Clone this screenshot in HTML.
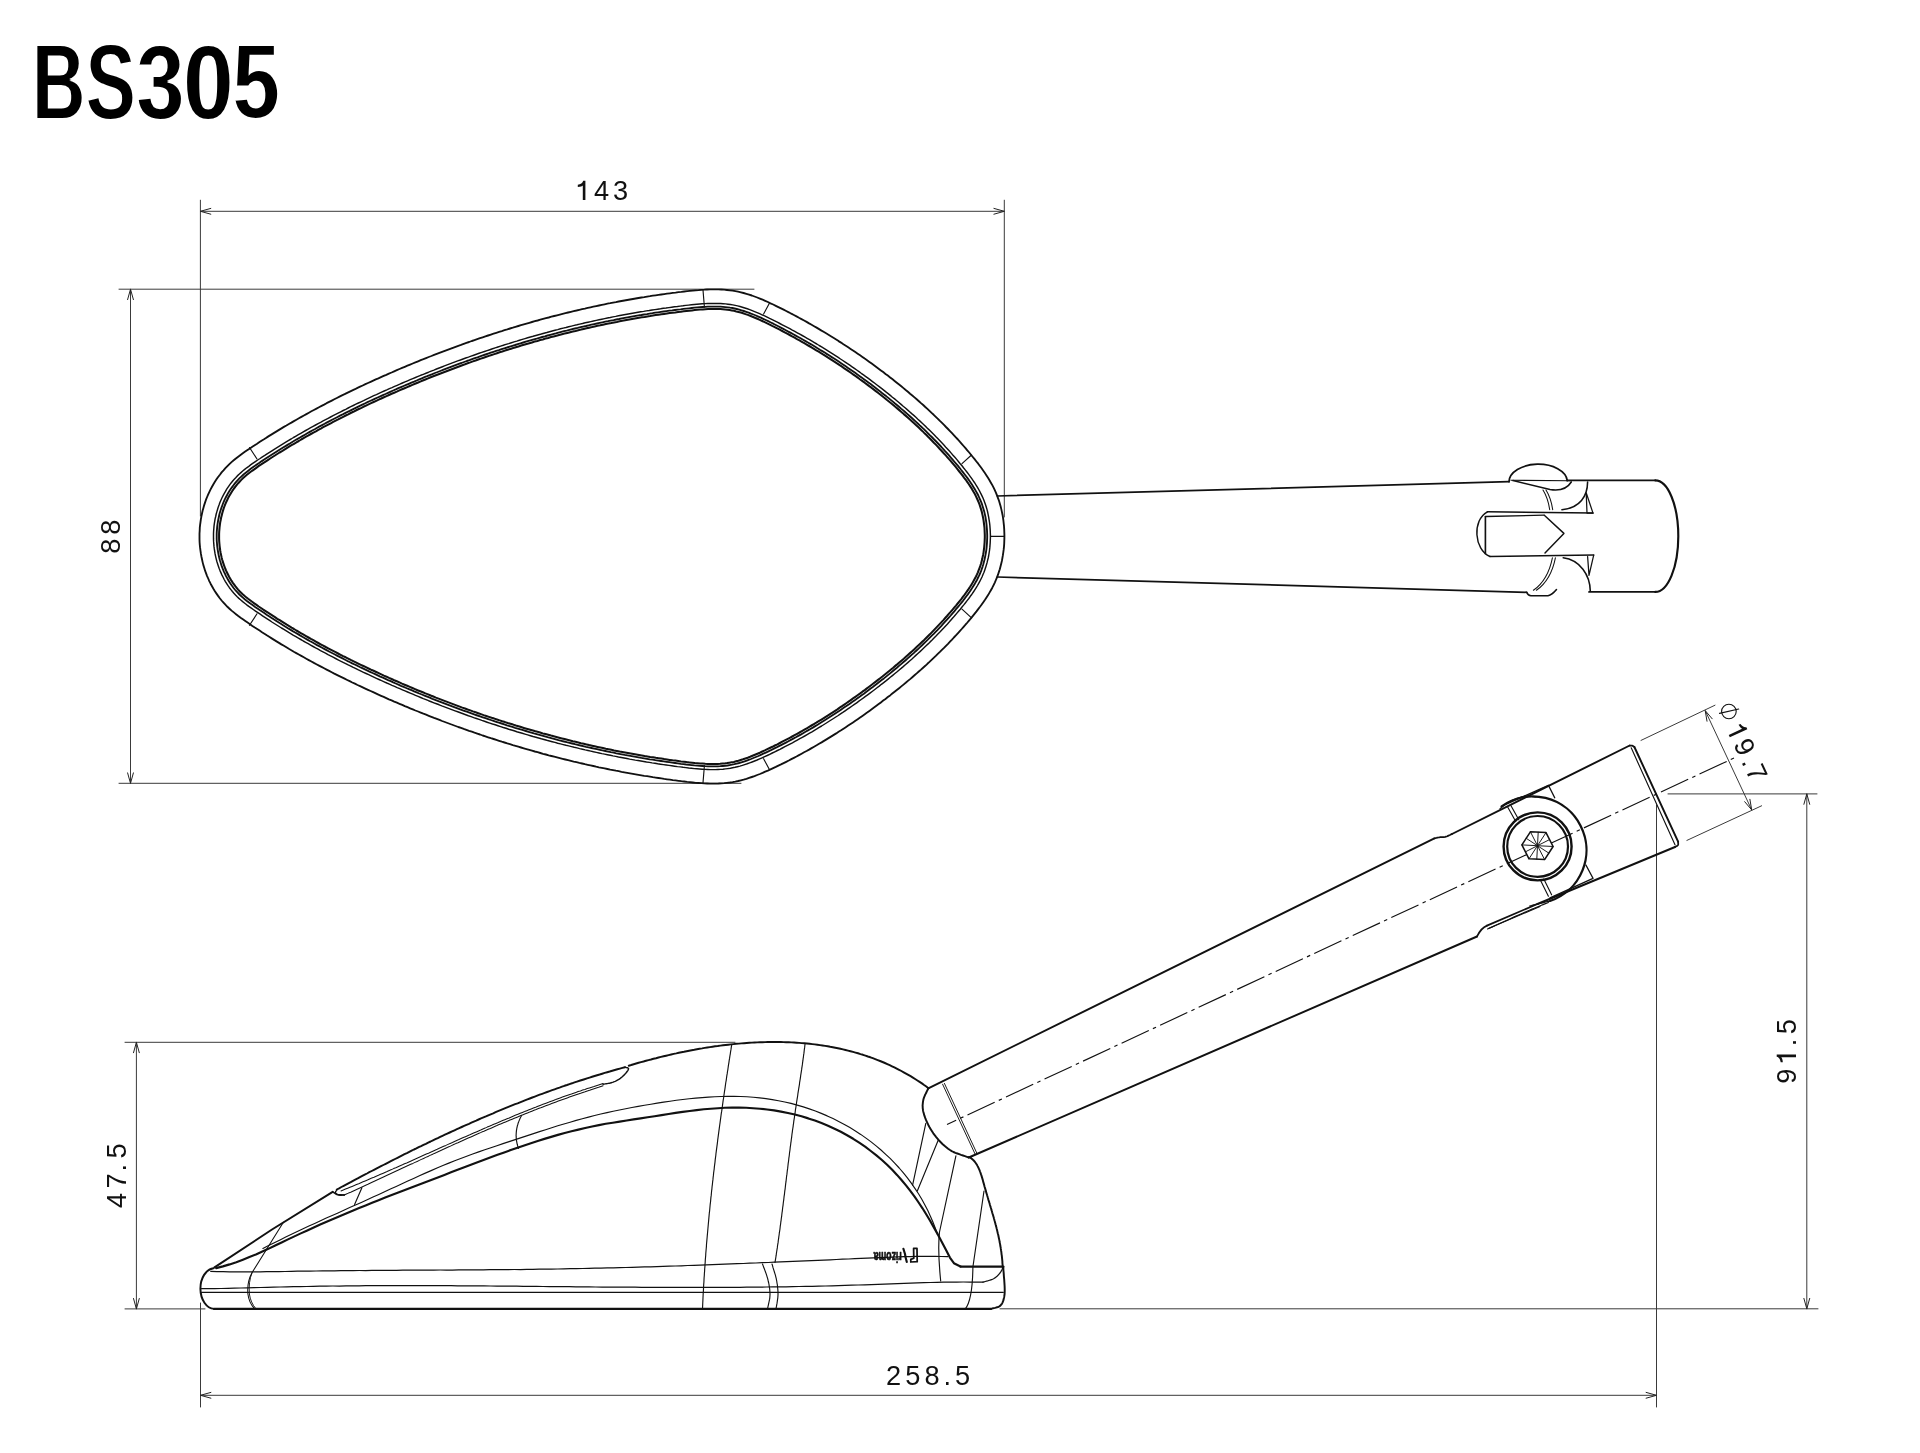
<!DOCTYPE html>
<html><head><meta charset="utf-8"><style>
html,body{margin:0;padding:0;background:#fff;}
body{width:1920px;height:1453px;overflow:hidden;position:relative;}
svg{position:absolute;left:0;top:0;will-change:transform;}
</style></head><body>
<svg width="1920" height="1453" viewBox="0 0 1920 1453" stroke-linecap="round" stroke-linejoin="round">
<line x1="200.4" y1="200.2" x2="200.4" y2="516.0" stroke="#3a3a3a" stroke-width="1.0" />
<line x1="1004.3" y1="200.2" x2="1004.3" y2="517.0" stroke="#3a3a3a" stroke-width="1.0" />
<line x1="200.4" y1="211.3" x2="1004.3" y2="211.3" stroke="#3a3a3a" stroke-width="1.0" />
<path d="M210.8,214.2 L200.4,211.3 L210.8,208.4" fill="none" stroke="#222" stroke-width="1.0" />
<path d="M993.9,208.4 L1004.3,211.3 L993.9,214.2" fill="none" stroke="#222" stroke-width="1.0" />
<line x1="119.0" y1="289.2" x2="754.0" y2="289.2" stroke="#3a3a3a" stroke-width="1.0" />
<line x1="119.0" y1="783.3" x2="741.0" y2="783.3" stroke="#3a3a3a" stroke-width="1.0" />
<line x1="130.5" y1="289.2" x2="130.5" y2="783.3" stroke="#3a3a3a" stroke-width="1.0" />
<path d="M127.6,299.6 L130.5,289.2 L133.4,299.6" fill="none" stroke="#222" stroke-width="1.0" />
<path d="M133.4,772.9 L130.5,783.3 L127.6,772.9" fill="none" stroke="#222" stroke-width="1.0" />
<line x1="125.0" y1="1042.3" x2="735.0" y2="1042.3" stroke="#3a3a3a" stroke-width="1.0" />
<line x1="125.0" y1="1308.9" x2="205.0" y2="1308.9" stroke="#3a3a3a" stroke-width="1.0" />
<line x1="136.4" y1="1042.3" x2="136.4" y2="1308.9" stroke="#3a3a3a" stroke-width="1.0" />
<path d="M133.5,1052.7 L136.4,1042.3 L139.3,1052.7" fill="none" stroke="#222" stroke-width="1.0" />
<path d="M139.3,1298.5 L136.4,1308.9 L133.5,1298.5" fill="none" stroke="#222" stroke-width="1.0" />
<line x1="200.5" y1="1303.0" x2="200.5" y2="1407.0" stroke="#3a3a3a" stroke-width="1.0" />
<line x1="1656.5" y1="805.0" x2="1656.5" y2="1407.0" stroke="#3a3a3a" stroke-width="1.0" />
<line x1="200.5" y1="1395.3" x2="1656.5" y2="1395.3" stroke="#3a3a3a" stroke-width="1.0" />
<path d="M210.9,1398.2 L200.5,1395.3 L210.9,1392.4" fill="none" stroke="#222" stroke-width="1.0" />
<path d="M1646.1,1392.4 L1656.5,1395.3 L1646.1,1398.2" fill="none" stroke="#222" stroke-width="1.0" />
<line x1="1668.0" y1="793.9" x2="1817.0" y2="793.9" stroke="#3a3a3a" stroke-width="1.0" />
<line x1="1000.0" y1="1308.8" x2="1818.0" y2="1308.8" stroke="#3a3a3a" stroke-width="1.0" />
<line x1="1806.8" y1="793.9" x2="1806.8" y2="1308.8" stroke="#3a3a3a" stroke-width="1.0" />
<path d="M1803.9,804.3 L1806.8,793.9 L1809.7,804.3" fill="none" stroke="#222" stroke-width="1.0" />
<path d="M1809.7,1298.4 L1806.8,1308.8 L1803.9,1298.4" fill="none" stroke="#222" stroke-width="1.0" />
<line x1="1641.0" y1="740.4" x2="1715.0" y2="705.2" stroke="#3a3a3a" stroke-width="1.0" />
<line x1="1686.9" y1="840.4" x2="1761.6" y2="805.8" stroke="#3a3a3a" stroke-width="1.0" />
<line x1="1705.2" y1="710.6" x2="1751.7" y2="809.9" stroke="#3a3a3a" stroke-width="1.0" />
<path d="M1707.0,721.2 L1705.2,710.6 L1712.2,718.8" fill="none" stroke="#222" stroke-width="1.0" />
<path d="M1749.9,799.3 L1751.7,809.9 L1744.7,801.7" fill="none" stroke="#222" stroke-width="1.0" />
<path d="M199.5,536.4 L199.5,533.5 L199.7,530.6 L199.8,527.7 L200.1,524.8 L200.5,522.0 L200.9,519.1 L201.4,516.3 L202.0,513.5 L202.6,510.7 L203.4,507.9 L204.2,505.1 L205.1,502.4 L206.0,499.7 L207.1,497.0 L208.2,494.4 L209.4,491.8 L210.7,489.2 L212.0,486.7 L213.4,484.2 L214.9,481.7 L216.5,479.3 L218.1,477.0 L219.9,474.7 L221.6,472.4 L223.5,470.3 L225.4,468.1 L227.4,466.1 L229.4,464.1 L231.5,462.1 L233.7,460.3 L235.9,458.5 L238.2,456.7 L240.5,455.0 L242.8,453.3 L245.2,451.6 L247.5,450.0 L249.9,448.4 L252.3,446.8 L254.7,445.2 L257.1,443.7 L259.5,442.1 L261.9,440.5 L264.4,439.0 L266.8,437.4 L269.2,435.9 L271.7,434.4 L274.1,432.9 L276.6,431.4 L279.0,429.9 L281.5,428.4 L283.9,426.9 L286.4,425.5 L288.9,424.0 L291.4,422.6 L293.9,421.1 L296.4,419.7 L298.9,418.3 L301.4,416.9 L303.9,415.5 L306.4,414.1 L308.9,412.7 L311.4,411.3 L313.9,410.0 L316.5,408.6 L319.0,407.3 L321.6,405.9 L324.1,404.6 L326.6,403.2 L329.2,401.9 L331.8,400.6 L334.3,399.3 L336.9,398.0 L339.5,396.7 L342.0,395.4 L344.6,394.2 L347.2,392.9 L349.8,391.6 L352.4,390.4 L355.0,389.2 L357.5,387.9 L360.1,386.7 L362.7,385.5 L365.4,384.2 L368.0,383.0 L370.6,381.8 L373.2,380.6 L375.8,379.4 L378.4,378.3 L381.0,377.1 L383.7,375.9 L386.3,374.8 L388.9,373.6 L391.6,372.5 L394.2,371.3 L396.8,370.2 L399.5,369.0 L402.1,367.9 L404.8,366.8 L407.4,365.7 L410.1,364.6 L412.7,363.5 L415.4,362.4 L418.1,361.3 L420.7,360.2 L423.4,359.2 L426.1,358.1 L428.7,357.0 L431.4,356.0 L434.1,354.9 L436.8,353.9 L439.4,352.9 L442.1,351.8 L444.8,350.8 L447.5,349.8 L450.2,348.8 L452.9,347.8 L455.6,346.8 L458.3,345.8 L461.0,344.9 L463.7,343.9 L466.4,342.9 L469.1,342.0 L471.8,341.0 L474.5,340.1 L477.2,339.2 L480.0,338.2 L482.7,337.3 L485.4,336.4 L488.1,335.5 L490.9,334.6 L493.6,333.7 L496.3,332.8 L499.1,331.9 L501.8,331.1 L504.5,330.2 L507.3,329.4 L510.0,328.5 L512.8,327.7 L515.5,326.8 L518.3,326.0 L521.0,325.2 L523.8,324.4 L526.5,323.6 L529.3,322.8 L532.0,322.0 L534.8,321.2 L537.6,320.5 L540.3,319.7 L543.1,318.9 L545.9,318.2 L548.7,317.5 L551.4,316.7 L554.2,316.0 L557.0,315.3 L559.8,314.6 L562.6,313.9 L565.4,313.2 L568.1,312.5 L570.9,311.8 L573.7,311.1 L576.5,310.5 L579.3,309.8 L582.1,309.2 L584.9,308.6 L587.7,307.9 L590.5,307.3 L593.3,306.7 L596.2,306.1 L599.0,305.5 L601.8,304.9 L604.6,304.3 L607.4,303.7 L610.2,303.2 L613.1,302.6 L615.9,302.1 L618.7,301.5 L621.5,301.0 L624.4,300.5 L627.2,300.0 L630.0,299.5 L632.9,299.0 L635.7,298.5 L638.5,298.0 L641.4,297.5 L644.2,297.1 L647.1,296.6 L649.9,296.2 L652.8,295.7 L655.6,295.3 L658.5,294.9 L661.3,294.5 L664.2,294.1 L667.0,293.7 L669.9,293.3 L672.7,292.9 L675.6,292.6 L678.5,292.2 L681.3,291.9 L684.2,291.5 L687.1,291.2 L689.9,290.9 L692.8,290.6 L695.7,290.3 L698.6,290.1 L701.4,289.8 L704.3,289.7 L707.1,289.5 L710.0,289.4 L712.8,289.4 L715.7,289.4 L718.5,289.4 L721.3,289.5 L724.2,289.7 L727.0,290.0 L729.8,290.3 L732.6,290.7 L735.4,291.1 L738.1,291.7 L740.9,292.3 L743.6,293.0 L746.4,293.8 L749.1,294.6 L751.8,295.5 L754.5,296.5 L757.2,297.5 L759.9,298.6 L762.6,299.7 L765.2,300.8 L767.9,302.0 L770.5,303.3 L773.2,304.5 L775.8,305.8 L778.4,307.1 L781.0,308.4 L783.6,309.7 L786.2,311.0 L788.8,312.3 L791.3,313.7 L793.9,315.0 L796.5,316.4 L799.0,317.8 L801.5,319.1 L804.1,320.5 L806.6,321.9 L809.1,323.4 L811.6,324.8 L814.1,326.2 L816.6,327.6 L819.1,329.1 L821.5,330.6 L824.0,332.0 L826.5,333.5 L828.9,335.0 L831.3,336.5 L833.8,338.0 L836.2,339.5 L838.6,341.1 L841.0,342.6 L843.4,344.2 L845.8,345.7 L848.2,347.3 L850.6,348.9 L853.0,350.5 L855.3,352.1 L857.7,353.7 L860.1,355.3 L862.4,356.9 L864.7,358.6 L867.1,360.2 L869.4,361.9 L871.7,363.6 L874.0,365.3 L876.3,367.0 L878.6,368.7 L880.9,370.4 L883.2,372.1 L885.5,373.9 L887.8,375.6 L890.1,377.4 L892.3,379.1 L894.6,380.9 L896.8,382.7 L899.1,384.5 L901.3,386.3 L903.5,388.1 L905.7,390.0 L907.9,391.8 L910.1,393.7 L912.3,395.5 L914.5,397.4 L916.7,399.3 L918.9,401.2 L921.0,403.1 L923.2,405.0 L925.3,407.0 L927.4,408.9 L929.5,410.9 L931.6,412.9 L933.7,414.8 L935.8,416.8 L937.9,418.8 L939.9,420.9 L942.0,422.9 L944.0,424.9 L946.0,427.0 L948.0,429.0 L950.0,431.1 L952.0,433.2 L954.0,435.3 L955.9,437.4 L957.9,439.5 L959.8,441.7 L961.7,443.8 L963.6,446.0 L965.5,448.2 L967.3,450.3 L969.2,452.5 L971.0,454.8 L972.8,457.0 L974.6,459.2 L976.4,461.5 L978.2,463.7 L979.9,466.0 L981.6,468.3 L983.3,470.7 L984.9,473.0 L986.5,475.4 L988.0,477.8 L989.5,480.2 L990.9,482.7 L992.3,485.1 L993.6,487.7 L994.8,490.2 L996.0,492.8 L997.0,495.4 L998.0,498.1 L999.0,500.8 L999.8,503.6 L1000.6,506.3 L1001.3,509.1 L1001.9,511.9 L1002.5,514.7 L1003.0,517.6 L1003.4,520.5 L1003.7,523.3 L1004.0,526.2 L1004.2,529.1 L1004.3,532.0 L1004.4,534.9 L1004.4,537.9 L1004.3,540.8 L1004.2,543.7 L1004.0,546.6 L1003.7,549.4 L1003.3,552.3 L1002.9,555.2 L1002.4,558.0 L1001.9,560.9 L1001.2,563.7 L1000.5,566.5 L999.8,569.2 L998.9,571.9 L998.0,574.7 L997.0,577.3 L995.9,580.0 L994.8,582.6 L993.6,585.1 L992.3,587.7 L990.9,590.2 L989.5,592.6 L988.1,595.1 L986.5,597.5 L985.0,599.8 L983.3,602.2 L981.7,604.5 L980.0,606.8 L978.2,609.1 L976.5,611.4 L974.7,613.6 L972.9,615.9 L971.1,618.1 L969.2,620.3 L967.4,622.5 L965.5,624.7 L963.6,626.8 L961.7,629.0 L959.8,631.1 L957.8,633.3 L955.9,635.4 L953.9,637.5 L952.0,639.6 L950.0,641.7 L948.0,643.8 L946.0,645.8 L944.0,647.9 L941.9,649.9 L939.9,651.9 L937.8,653.9 L935.8,655.9 L933.7,657.9 L931.6,659.9 L929.5,661.9 L927.4,663.8 L925.3,665.8 L923.1,667.7 L921.0,669.6 L918.8,671.5 L916.7,673.4 L914.5,675.3 L912.3,677.2 L910.1,679.1 L907.9,680.9 L905.7,682.8 L903.5,684.6 L901.3,686.4 L899.1,688.2 L896.8,690.0 L894.6,691.8 L892.3,693.6 L890.1,695.4 L887.8,697.1 L885.5,698.9 L883.2,700.6 L880.9,702.4 L878.7,704.1 L876.4,705.8 L874.0,707.5 L871.7,709.2 L869.4,710.9 L867.1,712.6 L864.8,714.2 L862.4,715.9 L860.1,717.5 L857.7,719.2 L855.4,720.8 L853.0,722.4 L850.6,724.0 L848.2,725.6 L845.8,727.2 L843.5,728.7 L841.1,730.3 L838.6,731.8 L836.2,733.4 L833.8,734.9 L831.4,736.4 L828.9,737.9 L826.5,739.4 L824.0,740.9 L821.6,742.4 L819.1,743.8 L816.6,745.3 L814.1,746.7 L811.6,748.1 L809.1,749.6 L806.6,751.0 L804.1,752.3 L801.6,753.7 L799.0,755.1 L796.5,756.5 L793.9,757.8 L791.3,759.1 L788.8,760.5 L786.2,761.8 L783.6,763.1 L781.0,764.4 L778.4,765.6 L775.8,766.9 L773.2,768.1 L770.5,769.4 L767.9,770.6 L765.2,771.7 L762.6,772.9 L759.9,774.0 L757.2,775.0 L754.5,776.1 L751.8,777.0 L749.1,777.9 L746.4,778.8 L743.6,779.6 L740.9,780.3 L738.1,781.0 L735.3,781.6 L732.6,782.1 L729.8,782.5 L727.0,782.8 L724.2,783.1 L721.4,783.3 L718.5,783.5 L715.7,783.6 L712.9,783.6 L710.0,783.6 L707.2,783.5 L704.3,783.4 L701.4,783.2 L698.6,783.0 L695.7,782.8 L692.8,782.5 L690.0,782.2 L687.1,781.9 L684.2,781.5 L681.4,781.2 L678.5,780.8 L675.6,780.4 L672.8,780.1 L669.9,779.7 L667.0,779.3 L664.2,778.9 L661.3,778.4 L658.5,778.0 L655.6,777.6 L652.8,777.2 L649.9,776.7 L647.1,776.2 L644.2,775.8 L641.4,775.3 L638.5,774.8 L635.7,774.3 L632.9,773.8 L630.0,773.3 L627.2,772.8 L624.3,772.3 L621.5,771.8 L618.7,771.2 L615.9,770.7 L613.0,770.1 L610.2,769.6 L607.4,769.0 L604.6,768.4 L601.8,767.8 L598.9,767.3 L596.1,766.7 L593.3,766.0 L590.5,765.4 L587.7,764.8 L584.9,764.2 L582.1,763.5 L579.3,762.9 L576.5,762.2 L573.7,761.6 L570.9,760.9 L568.1,760.2 L565.3,759.5 L562.6,758.8 L559.8,758.1 L557.0,757.4 L554.2,756.7 L551.4,756.0 L548.7,755.3 L545.9,754.5 L543.1,753.8 L540.3,753.0 L537.6,752.2 L534.8,751.5 L532.0,750.7 L529.3,749.9 L526.5,749.1 L523.8,748.3 L521.0,747.5 L518.3,746.7 L515.5,745.9 L512.8,745.1 L510.0,744.2 L507.3,743.4 L504.5,742.5 L501.8,741.7 L499.1,740.8 L496.3,739.9 L493.6,739.0 L490.9,738.2 L488.1,737.3 L485.4,736.4 L482.7,735.5 L480.0,734.5 L477.3,733.6 L474.5,732.7 L471.8,731.7 L469.1,730.8 L466.4,729.8 L463.7,728.9 L461.0,727.9 L458.3,727.0 L455.6,726.0 L452.9,725.0 L450.2,724.0 L447.5,723.0 L444.8,722.0 L442.1,721.0 L439.5,719.9 L436.8,718.9 L434.1,717.9 L431.4,716.8 L428.8,715.8 L426.1,714.7 L423.4,713.7 L420.7,712.6 L418.1,711.5 L415.4,710.5 L412.8,709.4 L410.1,708.3 L407.5,707.2 L404.8,706.1 L402.2,704.9 L399.5,703.8 L396.9,702.7 L394.2,701.6 L391.6,700.4 L388.9,699.3 L386.3,698.1 L383.7,696.9 L381.1,695.8 L378.4,694.6 L375.8,693.4 L373.2,692.2 L370.6,691.0 L368.0,689.8 L365.3,688.6 L362.7,687.4 L360.1,686.2 L357.5,685.0 L354.9,683.7 L352.3,682.5 L349.7,681.2 L347.2,680.0 L344.6,678.7 L342.0,677.4 L339.4,676.1 L336.8,674.8 L334.3,673.6 L331.7,672.2 L329.2,670.9 L326.6,669.6 L324.1,668.3 L321.5,666.9 L319.0,665.6 L316.4,664.2 L313.9,662.9 L311.4,661.5 L308.8,660.1 L306.3,658.7 L303.8,657.3 L301.3,655.9 L298.8,654.5 L296.3,653.1 L293.8,651.7 L291.3,650.2 L288.8,648.8 L286.4,647.3 L283.9,645.8 L281.4,644.4 L279.0,642.9 L276.5,641.4 L274.1,639.9 L271.7,638.4 L269.2,636.8 L266.8,635.3 L264.4,633.7 L262.0,632.2 L259.6,630.6 L257.2,629.0 L254.8,627.5 L252.4,625.9 L250.0,624.2 L247.6,622.6 L245.3,621.0 L242.9,619.3 L240.6,617.7 L238.3,616.0 L236.0,614.2 L233.8,612.4 L231.6,610.6 L229.5,608.7 L227.4,606.8 L225.4,604.7 L223.5,602.6 L221.6,600.5 L219.8,598.2 L218.1,595.9 L216.5,593.6 L214.9,591.2 L213.4,588.7 L212.0,586.2 L210.6,583.7 L209.3,581.1 L208.2,578.5 L207.0,575.8 L206.0,573.2 L205.0,570.4 L204.2,567.7 L203.3,564.9 L202.6,562.1 L202.0,559.3 L201.4,556.5 L200.9,553.7 L200.5,550.8 L200.1,547.9 L199.8,545.0 L199.6,542.2 L199.5,539.3 L199.5,536.4Z" fill="none" stroke="#111" stroke-width="1.8499999999999999" />
<path d="M213.5,536.4 L213.5,538.9 L213.6,541.4 L213.8,543.9 L214.0,546.4 L214.3,548.9 L214.7,551.4 L215.1,553.9 L215.6,556.3 L216.2,558.8 L216.8,561.2 L217.5,563.6 L218.3,565.9 L219.1,568.3 L220.0,570.6 L221.0,572.9 L222.0,575.1 L223.1,577.3 L224.2,579.5 L225.4,581.6 L226.7,583.7 L228.0,585.7 L229.4,587.7 L230.9,589.6 L232.4,591.5 L233.9,593.3 L235.5,595.1 L237.2,596.8 L238.9,598.4 L240.8,600.0 L242.7,601.6 L244.7,603.2 L246.7,604.8 L248.8,606.4 L251.0,607.9 L253.3,609.5 L255.5,611.1 L257.9,612.7 L260.2,614.2 L262.5,615.8 L264.9,617.4 L267.2,618.9 L269.6,620.4 L271.9,622.0 L274.3,623.5 L276.7,625.0 L279.1,626.5 L281.5,628.0 L283.9,629.4 L286.3,630.9 L288.7,632.4 L291.1,633.8 L293.5,635.3 L295.9,636.7 L298.4,638.1 L300.8,639.5 L303.3,641.0 L305.7,642.3 L308.2,643.7 L310.6,645.1 L313.1,646.5 L315.6,647.9 L318.1,649.2 L320.5,650.6 L323.0,651.9 L325.5,653.2 L328.0,654.6 L330.5,655.9 L333.1,657.2 L335.6,658.5 L338.1,659.8 L340.6,661.1 L343.1,662.3 L345.7,663.6 L348.2,664.9 L350.8,666.1 L353.3,667.4 L355.9,668.6 L358.4,669.9 L361.0,671.1 L363.5,672.3 L366.1,673.5 L368.7,674.7 L371.2,675.9 L373.8,677.1 L376.4,678.3 L379.0,679.5 L381.6,680.7 L384.2,681.8 L386.8,683.0 L389.4,684.1 L392.0,685.3 L394.6,686.4 L397.2,687.6 L399.8,688.7 L402.4,689.8 L405.0,690.9 L407.6,692.0 L410.2,693.1 L412.8,694.2 L415.5,695.3 L418.1,696.4 L420.7,697.5 L423.3,698.6 L426.0,699.6 L428.6,700.7 L431.2,701.7 L433.9,702.8 L436.5,703.8 L439.2,704.8 L441.8,705.9 L444.5,706.9 L447.1,707.9 L449.8,708.9 L452.4,709.9 L455.1,710.9 L457.7,711.8 L460.4,712.8 L463.1,713.8 L465.7,714.7 L468.4,715.7 L471.1,716.6 L473.7,717.6 L476.4,718.5 L479.1,719.4 L481.8,720.4 L484.5,721.3 L487.1,722.2 L489.8,723.1 L492.5,724.0 L495.2,724.8 L497.9,725.7 L500.6,726.6 L503.3,727.5 L506.0,728.3 L508.7,729.2 L511.4,730.0 L514.1,730.8 L516.8,731.7 L519.5,732.5 L522.3,733.3 L525.0,734.1 L527.7,734.9 L530.4,735.7 L533.1,736.5 L535.9,737.2 L538.6,738.0 L541.3,738.8 L544.0,739.5 L546.8,740.3 L549.5,741.0 L552.2,741.7 L555.0,742.4 L557.7,743.2 L560.5,743.9 L563.2,744.6 L566.0,745.3 L568.7,745.9 L571.5,746.6 L574.2,747.3 L577.0,747.9 L579.7,748.6 L582.5,749.2 L585.2,749.9 L588.0,750.5 L590.8,751.1 L593.5,751.8 L596.3,752.4 L599.1,753.0 L601.9,753.6 L604.6,754.1 L607.4,754.7 L610.2,755.3 L613.0,755.9 L615.7,756.4 L618.5,757.0 L621.3,757.5 L624.1,758.0 L626.9,758.5 L629.7,759.1 L632.5,759.6 L635.3,760.1 L638.1,760.5 L640.9,761.0 L643.7,761.5 L646.5,762.0 L649.3,762.4 L652.1,762.9 L654.9,763.3 L657.7,763.8 L660.5,764.2 L663.4,764.6 L666.2,765.0 L669.0,765.4 L671.8,765.8 L674.6,766.2 L677.5,766.6 L680.3,766.9 L683.1,767.3 L685.9,767.6 L688.7,768.0 L691.5,768.3 L694.2,768.6 L696.9,768.8 L699.7,769.0 L702.3,769.2 L705.0,769.4 L707.6,769.5 L710.3,769.6 L712.9,769.6 L715.4,769.6 L718.0,769.5 L720.5,769.4 L723.0,769.2 L725.4,768.9 L727.9,768.6 L730.3,768.3 L732.6,767.8 L735.0,767.3 L737.4,766.7 L739.9,766.1 L742.3,765.4 L744.7,764.6 L747.2,763.8 L749.7,762.9 L752.1,762.0 L754.6,761.0 L757.1,760.0 L759.6,758.9 L762.1,757.8 L764.7,756.6 L767.2,755.5 L769.7,754.3 L772.3,753.0 L774.8,751.8 L777.4,750.5 L779.9,749.3 L782.4,748.0 L784.9,746.7 L787.4,745.4 L789.9,744.1 L792.4,742.8 L794.9,741.4 L797.3,740.1 L799.8,738.7 L802.3,737.3 L804.7,736.0 L807.1,734.6 L809.6,733.2 L812.0,731.8 L814.4,730.3 L816.8,728.9 L819.2,727.4 L821.6,726.0 L824.0,724.5 L826.4,723.0 L828.7,721.5 L831.1,720.0 L833.5,718.5 L835.8,717.0 L838.2,715.5 L840.5,713.9 L842.8,712.4 L845.1,710.8 L847.5,709.2 L849.8,707.6 L852.1,706.0 L854.4,704.4 L856.7,702.8 L858.9,701.2 L861.2,699.5 L863.5,697.9 L865.8,696.2 L868.0,694.6 L870.3,692.9 L872.5,691.2 L874.8,689.5 L877.0,687.8 L879.2,686.1 L881.4,684.3 L883.7,682.6 L885.9,680.9 L888.1,679.1 L890.3,677.3 L892.4,675.6 L894.6,673.8 L896.8,672.0 L898.9,670.2 L901.1,668.4 L903.2,666.6 L905.3,664.7 L907.5,662.9 L909.6,661.0 L911.7,659.2 L913.8,657.3 L915.8,655.4 L917.9,653.5 L920.0,651.6 L922.0,649.7 L924.0,647.8 L926.1,645.8 L928.1,643.9 L930.1,641.9 L932.1,640.0 L934.0,638.0 L936.0,636.0 L937.9,634.0 L939.9,632.0 L941.8,630.0 L943.7,628.0 L945.6,625.9 L947.5,623.9 L949.4,621.8 L951.2,619.7 L953.1,617.6 L954.9,615.5 L956.7,613.4 L958.5,611.3 L960.3,609.2 L962.0,607.0 L963.8,604.9 L965.5,602.7 L967.1,600.6 L968.8,598.5 L970.3,596.3 L971.9,594.2 L973.4,592.0 L974.8,589.9 L976.2,587.7 L977.5,585.5 L978.7,583.3 L979.9,581.2 L981.0,579.0 L982.1,576.7 L983.0,574.5 L984.0,572.3 L984.8,570.0 L985.6,567.6 L986.3,565.3 L987.0,562.9 L987.6,560.4 L988.2,558.0 L988.7,555.5 L989.1,553.0 L989.5,550.5 L989.8,547.9 L990.0,545.4 L990.2,542.8 L990.3,540.3 L990.4,537.7 L990.4,535.1 L990.3,532.5 L990.2,529.9 L990.0,527.4 L989.8,524.8 L989.5,522.3 L989.1,519.8 L988.7,517.3 L988.2,514.8 L987.7,512.3 L987.1,509.9 L986.4,507.5 L985.7,505.2 L984.9,502.9 L984.0,500.6 L983.1,498.3 L982.1,496.1 L981.0,493.9 L979.9,491.7 L978.7,489.5 L977.5,487.4 L976.1,485.2 L974.8,483.0 L973.3,480.9 L971.8,478.7 L970.3,476.6 L968.7,474.4 L967.1,472.3 L965.4,470.1 L963.7,468.0 L962.0,465.8 L960.2,463.7 L958.4,461.5 L956.7,459.4 L954.9,457.3 L953.0,455.2 L951.2,453.1 L949.4,451.0 L947.5,448.9 L945.6,446.9 L943.7,444.8 L941.8,442.8 L939.9,440.8 L938.0,438.8 L936.0,436.8 L934.1,434.8 L932.1,432.8 L930.1,430.8 L928.1,428.9 L926.1,426.9 L924.1,425.0 L922.0,423.0 L920.0,421.1 L917.9,419.2 L915.9,417.3 L913.8,415.4 L911.7,413.6 L909.6,411.7 L907.5,409.9 L905.4,408.0 L903.2,406.2 L901.1,404.4 L898.9,402.5 L896.8,400.7 L894.6,398.9 L892.4,397.2 L890.3,395.4 L888.1,393.6 L885.9,391.9 L883.7,390.1 L881.5,388.4 L879.2,386.7 L877.0,385.0 L874.8,383.3 L872.5,381.6 L870.3,379.9 L868.0,378.2 L865.8,376.6 L863.5,374.9 L861.2,373.3 L859.0,371.6 L856.7,370.0 L854.4,368.4 L852.1,366.8 L849.8,365.2 L847.5,363.7 L845.2,362.1 L842.8,360.5 L840.5,359.0 L838.2,357.4 L835.8,355.9 L833.5,354.4 L831.1,352.9 L828.7,351.4 L826.4,349.9 L824.0,348.4 L821.6,346.9 L819.2,345.5 L816.8,344.0 L814.4,342.6 L812.0,341.2 L809.5,339.7 L807.1,338.3 L804.7,336.9 L802.2,335.5 L799.8,334.2 L797.3,332.8 L794.8,331.4 L792.3,330.1 L789.8,328.7 L787.3,327.4 L784.8,326.1 L782.3,324.8 L779.8,323.5 L777.3,322.2 L774.7,320.9 L772.2,319.6 L769.6,318.4 L767.1,317.1 L764.6,315.9 L762.1,314.8 L759.6,313.7 L757.1,312.6 L754.6,311.6 L752.2,310.6 L749.7,309.6 L747.3,308.8 L744.8,308.0 L742.4,307.2 L740.0,306.5 L737.6,305.9 L735.2,305.4 L732.8,304.9 L730.5,304.5 L728.0,304.2 L725.6,303.9 L723.1,303.7 L720.6,303.5 L718.1,303.4 L715.6,303.4 L713.0,303.4 L710.4,303.4 L707.7,303.5 L705.1,303.6 L702.4,303.8 L699.7,304.0 L696.9,304.2 L694.2,304.5 L691.4,304.8 L688.6,305.1 L685.8,305.4 L683.0,305.8 L680.2,306.1 L677.4,306.5 L674.5,306.8 L671.7,307.2 L668.9,307.6 L666.1,308.0 L663.3,308.3 L660.5,308.8 L657.7,309.2 L654.9,309.6 L652.1,310.0 L649.2,310.5 L646.4,310.9 L643.6,311.4 L640.8,311.8 L638.0,312.3 L635.3,312.8 L632.5,313.3 L629.7,313.8 L626.9,314.3 L624.1,314.8 L621.3,315.3 L618.5,315.8 L615.7,316.4 L613.0,316.9 L610.2,317.5 L607.4,318.0 L604.6,318.6 L601.8,319.2 L599.1,319.8 L596.3,320.4 L593.5,321.0 L590.8,321.6 L588.0,322.2 L585.2,322.8 L582.5,323.5 L579.7,324.1 L577.0,324.8 L574.2,325.4 L571.5,326.1 L568.7,326.8 L566.0,327.5 L563.2,328.1 L560.5,328.8 L557.7,329.6 L555.0,330.3 L552.2,331.0 L549.5,331.7 L546.8,332.5 L544.0,333.2 L541.3,334.0 L538.6,334.7 L535.9,335.5 L533.1,336.3 L530.4,337.0 L527.7,337.8 L525.0,338.6 L522.3,339.4 L519.5,340.2 L516.8,341.1 L514.1,341.9 L511.4,342.7 L508.7,343.6 L506.0,344.4 L503.3,345.3 L500.6,346.1 L497.9,347.0 L495.2,347.9 L492.5,348.8 L489.8,349.7 L487.1,350.6 L484.5,351.5 L481.8,352.4 L479.1,353.3 L476.4,354.2 L473.7,355.2 L471.1,356.1 L468.4,357.1 L465.7,358.0 L463.1,359.0 L460.4,360.0 L457.7,360.9 L455.1,361.9 L452.4,362.9 L449.8,363.9 L447.1,364.9 L444.5,365.9 L441.8,367.0 L439.2,368.0 L436.5,369.0 L433.9,370.1 L431.2,371.1 L428.6,372.2 L426.0,373.2 L423.3,374.3 L420.7,375.3 L418.1,376.4 L415.5,377.5 L412.8,378.6 L410.2,379.7 L407.6,380.8 L405.0,381.9 L402.4,383.0 L399.8,384.2 L397.2,385.3 L394.6,386.4 L392.0,387.6 L389.4,388.7 L386.8,389.9 L384.2,391.0 L381.6,392.2 L379.0,393.4 L376.4,394.6 L373.8,395.7 L371.3,396.9 L368.7,398.1 L366.1,399.3 L363.6,400.6 L361.0,401.8 L358.4,403.0 L355.9,404.2 L353.3,405.5 L350.8,406.7 L348.2,408.0 L345.7,409.3 L343.2,410.5 L340.7,411.8 L338.1,413.1 L335.6,414.4 L333.1,415.7 L330.6,417.0 L328.1,418.3 L325.6,419.6 L323.1,420.9 L320.6,422.3 L318.1,423.6 L315.6,425.0 L313.1,426.4 L310.7,427.7 L308.2,429.1 L305.7,430.5 L303.3,431.9 L300.8,433.3 L298.4,434.7 L296.0,436.1 L293.5,437.5 L291.1,439.0 L288.7,440.4 L286.2,441.9 L283.8,443.3 L281.4,444.8 L279.0,446.3 L276.6,447.8 L274.2,449.3 L271.9,450.8 L269.5,452.3 L267.1,453.8 L264.8,455.4 L262.4,456.9 L260.1,458.5 L257.7,460.0 L255.4,461.6 L253.1,463.2 L250.9,464.7 L248.8,466.3 L246.7,467.8 L244.7,469.4 L242.7,471.0 L240.9,472.6 L239.1,474.2 L237.3,475.9 L235.7,477.7 L234.0,479.5 L232.5,481.3 L230.9,483.2 L229.5,485.2 L228.1,487.2 L226.7,489.2 L225.5,491.3 L224.3,493.4 L223.1,495.6 L222.0,497.8 L221.0,500.0 L220.0,502.3 L219.2,504.6 L218.3,506.9 L217.6,509.3 L216.9,511.6 L216.2,514.0 L215.7,516.5 L215.1,518.9 L214.7,521.4 L214.3,523.9 L214.0,526.4 L213.8,528.9 L213.6,531.4 L213.5,533.9 L213.5,536.4Z" fill="none" stroke="#111" stroke-width="1.45" />
<path d="M216.7,536.4 L216.7,538.8 L216.8,541.3 L217.0,543.7 L217.2,546.1 L217.5,548.5 L217.9,550.9 L218.3,553.3 L218.8,555.7 L219.3,558.0 L219.9,560.3 L220.6,562.6 L221.3,564.9 L222.1,567.2 L223.0,569.4 L223.9,571.6 L224.9,573.7 L225.9,575.9 L227.0,577.9 L228.2,580.0 L229.4,582.0 L230.7,583.9 L232.0,585.8 L233.4,587.7 L234.8,589.5 L236.3,591.2 L237.9,592.9 L239.4,594.5 L241.1,596.0 L242.9,597.6 L244.7,599.2 L246.6,600.7 L248.6,602.2 L250.7,603.8 L252.9,605.3 L255.1,606.9 L257.4,608.4 L259.7,610.0 L262.0,611.6 L264.3,613.1 L266.6,614.7 L269.0,616.2 L271.3,617.7 L273.7,619.3 L276.0,620.8 L278.4,622.3 L280.8,623.8 L283.1,625.2 L285.5,626.7 L287.9,628.2 L290.3,629.6 L292.7,631.1 L295.1,632.5 L297.6,633.9 L300.0,635.4 L302.4,636.8 L304.9,638.2 L307.3,639.6 L309.7,641.0 L312.2,642.3 L314.7,643.7 L317.1,645.1 L319.6,646.4 L322.1,647.7 L324.6,649.1 L327.0,650.4 L329.5,651.7 L332.0,653.0 L334.5,654.3 L337.0,655.6 L339.5,656.9 L342.1,658.2 L344.6,659.5 L347.1,660.8 L349.6,662.0 L352.2,663.3 L354.7,664.5 L357.3,665.7 L359.8,667.0 L362.3,668.2 L364.9,669.4 L367.5,670.6 L370.0,671.8 L372.6,673.0 L375.2,674.2 L377.7,675.4 L380.3,676.6 L382.9,677.7 L385.5,678.9 L388.1,680.1 L390.7,681.2 L393.2,682.4 L395.8,683.5 L398.4,684.6 L401.0,685.8 L403.6,686.9 L406.2,688.0 L408.9,689.1 L411.5,690.2 L414.1,691.3 L416.7,692.4 L419.3,693.5 L421.9,694.5 L424.5,695.6 L427.2,696.7 L429.8,697.7 L432.4,698.8 L435.1,699.8 L437.7,700.8 L440.3,701.8 L443.0,702.9 L445.6,703.9 L448.2,704.9 L450.9,705.9 L453.5,706.9 L456.2,707.9 L458.8,708.8 L461.5,709.8 L464.2,710.8 L466.8,711.7 L469.5,712.7 L472.1,713.6 L474.8,714.6 L477.5,715.5 L480.1,716.4 L482.8,717.3 L485.5,718.2 L488.2,719.1 L490.8,720.0 L493.5,720.9 L496.2,721.8 L498.9,722.7 L501.6,723.5 L504.3,724.4 L507.0,725.3 L509.7,726.1 L512.4,726.9 L515.1,727.8 L517.8,728.6 L520.5,729.4 L523.2,730.2 L525.9,731.0 L528.6,731.8 L531.3,732.6 L534.0,733.4 L536.7,734.1 L539.4,734.9 L542.2,735.7 L544.9,736.4 L547.6,737.2 L550.3,737.9 L553.1,738.6 L555.8,739.3 L558.5,740.1 L561.3,740.8 L564.0,741.5 L566.7,742.2 L569.5,742.8 L572.2,743.5 L575.0,744.2 L577.7,744.8 L580.5,745.5 L583.2,746.1 L586.0,746.8 L588.7,747.4 L591.5,748.0 L594.2,748.6 L597.0,749.2 L599.8,749.8 L602.5,750.4 L605.3,751.0 L608.1,751.6 L610.8,752.2 L613.6,752.7 L616.4,753.3 L619.1,753.8 L621.9,754.3 L624.7,754.9 L627.5,755.4 L630.3,755.9 L633.1,756.4 L635.8,756.9 L638.6,757.4 L641.4,757.9 L644.2,758.3 L647.0,758.8 L649.8,759.3 L652.6,759.7 L655.4,760.2 L658.2,760.6 L661.0,761.0 L663.8,761.4 L666.6,761.8 L669.4,762.2 L672.2,762.6 L675.1,763.0 L677.9,763.4 L680.7,763.8 L683.5,764.1 L686.3,764.5 L689.1,764.8 L691.8,765.1 L694.5,765.4 L697.2,765.6 L699.9,765.8 L702.5,766.0 L705.2,766.2 L707.8,766.3 L710.3,766.4 L712.9,766.4 L715.4,766.4 L717.8,766.3 L720.3,766.2 L722.7,766.0 L725.1,765.8 L727.4,765.5 L729.7,765.1 L732.0,764.7 L734.3,764.2 L736.7,763.6 L739.0,763.0 L741.4,762.3 L743.8,761.6 L746.1,760.8 L748.6,759.9 L751.0,759.0 L753.4,758.0 L755.9,757.0 L758.4,756.0 L760.8,754.9 L763.3,753.7 L765.8,752.6 L768.4,751.4 L770.9,750.2 L773.4,748.9 L775.9,747.7 L778.4,746.4 L781.0,745.1 L783.4,743.9 L785.9,742.6 L788.4,741.3 L790.9,739.9 L793.3,738.6 L795.8,737.3 L798.3,735.9 L800.7,734.6 L803.1,733.2 L805.5,731.8 L808.0,730.4 L810.4,729.0 L812.8,727.6 L815.2,726.1 L817.6,724.7 L819.9,723.3 L822.3,721.8 L824.7,720.3 L827.0,718.8 L829.4,717.3 L831.7,715.8 L834.1,714.3 L836.4,712.8 L838.7,711.3 L841.0,709.7 L843.3,708.1 L845.6,706.6 L847.9,705.0 L850.2,703.4 L852.5,701.8 L854.8,700.2 L857.1,698.6 L859.3,696.9 L861.6,695.3 L863.9,693.7 L866.1,692.0 L868.4,690.3 L870.6,688.6 L872.8,687.0 L875.0,685.3 L877.3,683.5 L879.5,681.8 L881.7,680.1 L883.9,678.4 L886.1,676.6 L888.2,674.9 L890.4,673.1 L892.6,671.3 L894.7,669.5 L896.9,667.7 L899.0,665.9 L901.1,664.1 L903.2,662.3 L905.4,660.5 L907.4,658.6 L909.5,656.8 L911.6,654.9 L913.7,653.1 L915.7,651.2 L917.8,649.3 L919.8,647.4 L921.8,645.5 L923.8,643.5 L925.8,641.6 L927.8,639.7 L929.8,637.7 L931.8,635.7 L933.7,633.8 L935.6,631.8 L937.6,629.8 L939.5,627.8 L941.4,625.8 L943.3,623.7 L945.1,621.7 L947.0,619.6 L948.8,617.6 L950.7,615.5 L952.5,613.4 L954.3,611.3 L956.0,609.2 L957.8,607.1 L959.6,605.0 L961.3,602.9 L963.0,600.8 L964.6,598.6 L966.2,596.5 L967.8,594.4 L969.3,592.3 L970.7,590.2 L972.1,588.1 L973.4,586.0 L974.7,583.9 L975.9,581.8 L977.1,579.7 L978.1,577.5 L979.2,575.4 L980.1,573.3 L981.0,571.1 L981.8,568.9 L982.6,566.6 L983.3,564.3 L983.9,562.0 L984.5,559.7 L985.0,557.3 L985.5,554.9 L985.9,552.5 L986.3,550.1 L986.6,547.6 L986.8,545.1 L987.0,542.6 L987.1,540.1 L987.2,537.6 L987.2,535.1 L987.1,532.6 L987.0,530.1 L986.8,527.6 L986.6,525.2 L986.3,522.7 L986.0,520.3 L985.6,517.8 L985.1,515.4 L984.6,513.1 L984.0,510.7 L983.3,508.4 L982.6,506.2 L981.9,503.9 L981.0,501.7 L980.1,499.6 L979.2,497.5 L978.2,495.3 L977.1,493.2 L975.9,491.1 L974.7,489.0 L973.4,486.9 L972.1,484.8 L970.7,482.7 L969.2,480.5 L967.7,478.4 L966.1,476.3 L964.5,474.2 L962.9,472.1 L961.2,470.0 L959.5,467.8 L957.8,465.7 L956.0,463.6 L954.2,461.5 L952.4,459.4 L950.6,457.3 L948.8,455.2 L947.0,453.1 L945.1,451.1 L943.3,449.1 L941.4,447.0 L939.5,445.0 L937.6,443.0 L935.7,441.0 L933.7,439.0 L931.8,437.0 L929.8,435.1 L927.8,433.1 L925.9,431.2 L923.9,429.2 L921.9,427.3 L919.8,425.4 L917.8,423.5 L915.8,421.6 L913.7,419.7 L911.6,417.8 L909.6,416.0 L907.5,414.1 L905.4,412.3 L903.3,410.4 L901.1,408.6 L899.0,406.8 L896.9,405.0 L894.7,403.2 L892.6,401.4 L890.4,399.6 L888.3,397.9 L886.1,396.1 L883.9,394.4 L881.7,392.7 L879.5,390.9 L877.3,389.2 L875.1,387.5 L872.8,385.8 L870.6,384.1 L868.4,382.5 L866.1,380.8 L863.9,379.2 L861.6,377.5 L859.4,375.9 L857.1,374.3 L854.8,372.6 L852.5,371.0 L850.3,369.5 L848.0,367.9 L845.7,366.3 L843.4,364.7 L841.1,363.2 L838.7,361.6 L836.4,360.1 L834.1,358.6 L831.7,357.1 L829.4,355.6 L827.0,354.1 L824.7,352.6 L822.3,351.1 L819.9,349.7 L817.5,348.2 L815.2,346.8 L812.8,345.3 L810.3,343.9 L807.9,342.5 L805.5,341.1 L803.1,339.7 L800.6,338.3 L798.2,337.0 L795.7,335.6 L793.3,334.2 L790.8,332.9 L788.3,331.6 L785.8,330.2 L783.3,328.9 L780.8,327.6 L778.3,326.3 L775.8,325.0 L773.3,323.7 L770.8,322.5 L768.2,321.2 L765.7,320.0 L763.2,318.8 L760.8,317.7 L758.3,316.6 L755.9,315.5 L753.4,314.5 L751.0,313.6 L748.6,312.6 L746.2,311.8 L743.8,311.0 L741.5,310.3 L739.2,309.6 L736.8,309.0 L734.5,308.5 L732.3,308.0 L730.0,307.7 L727.6,307.3 L725.3,307.1 L722.9,306.9 L720.5,306.7 L718.0,306.6 L715.5,306.6 L713.0,306.6 L710.4,306.6 L707.9,306.7 L705.2,306.8 L702.6,307.0 L699.9,307.2 L697.2,307.4 L694.5,307.7 L691.8,308.0 L689.0,308.3 L686.2,308.6 L683.4,308.9 L680.6,309.3 L677.8,309.6 L675.0,310.0 L672.2,310.4 L669.3,310.7 L666.5,311.1 L663.7,311.5 L660.9,311.9 L658.1,312.3 L655.3,312.7 L652.5,313.2 L649.7,313.6 L647.0,314.1 L644.2,314.5 L641.4,315.0 L638.6,315.4 L635.8,315.9 L633.0,316.4 L630.2,316.9 L627.5,317.4 L624.7,317.9 L621.9,318.4 L619.1,319.0 L616.3,319.5 L613.6,320.1 L610.8,320.6 L608.0,321.2 L605.3,321.7 L602.5,322.3 L599.7,322.9 L597.0,323.5 L594.2,324.1 L591.5,324.7 L588.7,325.3 L586.0,326.0 L583.2,326.6 L580.5,327.2 L577.7,327.9 L575.0,328.5 L572.2,329.2 L569.5,329.9 L566.7,330.6 L564.0,331.2 L561.3,331.9 L558.5,332.6 L555.8,333.4 L553.1,334.1 L550.3,334.8 L547.6,335.5 L544.9,336.3 L542.2,337.0 L539.4,337.8 L536.7,338.6 L534.0,339.3 L531.3,340.1 L528.6,340.9 L525.9,341.7 L523.2,342.5 L520.5,343.3 L517.8,344.1 L515.1,345.0 L512.4,345.8 L509.7,346.6 L507.0,347.5 L504.3,348.3 L501.6,349.2 L498.9,350.1 L496.2,350.9 L493.5,351.8 L490.8,352.7 L488.2,353.6 L485.5,354.5 L482.8,355.4 L480.1,356.3 L477.5,357.3 L474.8,358.2 L472.1,359.1 L469.5,360.1 L466.8,361.0 L464.1,362.0 L461.5,363.0 L458.8,363.9 L456.2,364.9 L453.5,365.9 L450.9,366.9 L448.2,367.9 L445.6,368.9 L443.0,369.9 L440.3,371.0 L437.7,372.0 L435.0,373.0 L432.4,374.1 L429.8,375.1 L427.2,376.2 L424.5,377.2 L421.9,378.3 L419.3,379.4 L416.7,380.5 L414.1,381.6 L411.5,382.6 L408.8,383.8 L406.2,384.9 L403.6,386.0 L401.0,387.1 L398.4,388.2 L395.8,389.4 L393.2,390.5 L390.7,391.6 L388.1,392.8 L385.5,394.0 L382.9,395.1 L380.3,396.3 L377.7,397.5 L375.2,398.6 L372.6,399.8 L370.0,401.0 L367.5,402.2 L364.9,403.5 L362.4,404.7 L359.8,405.9 L357.3,407.1 L354.7,408.4 L352.2,409.6 L349.7,410.9 L347.1,412.1 L344.6,413.4 L342.1,414.7 L339.6,415.9 L337.1,417.2 L334.6,418.5 L332.1,419.8 L329.6,421.1 L327.1,422.4 L324.6,423.8 L322.1,425.1 L319.6,426.4 L317.2,427.8 L314.7,429.2 L312.2,430.5 L309.8,431.9 L307.3,433.3 L304.9,434.7 L302.4,436.1 L300.0,437.5 L297.6,438.9 L295.1,440.3 L292.7,441.7 L290.3,443.2 L287.9,444.6 L285.5,446.1 L283.1,447.5 L280.7,449.0 L278.3,450.5 L276.0,452.0 L273.6,453.5 L271.2,455.0 L268.9,456.5 L266.5,458.1 L264.2,459.6 L261.8,461.1 L259.5,462.7 L257.2,464.2 L255.0,465.8 L252.8,467.3 L250.7,468.8 L248.6,470.4 L246.7,471.9 L244.8,473.4 L243.0,475.0 L241.3,476.6 L239.6,478.2 L238.0,479.9 L236.4,481.6 L234.9,483.4 L233.5,485.2 L232.1,487.1 L230.7,489.0 L229.4,490.9 L228.2,492.9 L227.1,495.0 L226.0,497.0 L224.9,499.1 L223.9,501.3 L223.0,503.5 L222.2,505.7 L221.4,507.9 L220.6,510.2 L219.9,512.5 L219.3,514.8 L218.8,517.2 L218.3,519.5 L217.9,521.9 L217.5,524.3 L217.2,526.7 L217.0,529.1 L216.8,531.5 L216.7,534.0 L216.7,536.4Z" fill="none" stroke="#111" stroke-width="1.8499999999999999" />
<path d="M219.1,536.4 L219.1,538.8 L219.2,541.1 L219.4,543.5 L219.6,545.8 L219.9,548.2 L220.2,550.5 L220.6,552.8 L221.1,555.1 L221.6,557.4 L222.2,559.7 L222.9,561.9 L223.6,564.2 L224.4,566.3 L225.2,568.5 L226.1,570.6 L227.1,572.7 L228.1,574.8 L229.1,576.8 L230.3,578.8 L231.4,580.7 L232.7,582.6 L234.0,584.4 L235.3,586.2 L236.7,587.9 L238.1,589.6 L239.6,591.2 L241.1,592.7 L242.7,594.3 L244.4,595.8 L246.2,597.3 L248.1,598.8 L250.1,600.3 L252.1,601.8 L254.3,603.4 L256.5,604.9 L258.7,606.5 L261.0,608.0 L263.3,609.6 L265.6,611.1 L268.0,612.7 L270.3,614.2 L272.6,615.7 L275.0,617.2 L277.3,618.8 L279.7,620.2 L282.0,621.7 L284.4,623.2 L286.8,624.7 L289.2,626.1 L291.6,627.6 L294.0,629.0 L296.4,630.5 L298.8,631.9 L301.2,633.3 L303.6,634.7 L306.0,636.1 L308.5,637.5 L310.9,638.9 L313.4,640.2 L315.8,641.6 L318.3,643.0 L320.7,644.3 L323.2,645.6 L325.7,647.0 L328.2,648.3 L330.6,649.6 L333.1,650.9 L335.6,652.2 L338.1,653.5 L340.6,654.8 L343.1,656.1 L345.7,657.3 L348.2,658.6 L350.7,659.9 L353.2,661.1 L355.8,662.4 L358.3,663.6 L360.8,664.8 L363.4,666.0 L365.9,667.2 L368.5,668.5 L371.0,669.7 L373.6,670.8 L376.2,672.0 L378.7,673.2 L381.3,674.4 L383.9,675.6 L386.5,676.7 L389.0,677.9 L391.6,679.0 L394.2,680.2 L396.8,681.3 L399.4,682.4 L402.0,683.6 L404.6,684.7 L407.2,685.8 L409.8,686.9 L412.4,688.0 L415.0,689.1 L417.6,690.2 L420.2,691.2 L422.8,692.3 L425.4,693.4 L428.1,694.4 L430.7,695.5 L433.3,696.5 L435.9,697.6 L438.6,698.6 L441.2,699.6 L443.8,700.6 L446.5,701.6 L449.1,702.6 L451.7,703.6 L454.4,704.6 L457.0,705.6 L459.7,706.6 L462.3,707.6 L465.0,708.5 L467.6,709.5 L470.3,710.4 L472.9,711.4 L475.6,712.3 L478.3,713.2 L480.9,714.1 L483.6,715.1 L486.3,716.0 L488.9,716.9 L491.6,717.8 L494.3,718.6 L497.0,719.5 L499.6,720.4 L502.3,721.3 L505.0,722.1 L507.7,723.0 L510.4,723.8 L513.1,724.6 L515.8,725.5 L518.5,726.3 L521.1,727.1 L523.8,727.9 L526.5,728.7 L529.3,729.5 L532.0,730.3 L534.7,731.1 L537.4,731.8 L540.1,732.6 L542.8,733.4 L545.5,734.1 L548.2,734.8 L551.0,735.6 L553.7,736.3 L556.4,737.0 L559.1,737.7 L561.9,738.4 L564.6,739.1 L567.3,739.8 L570.1,740.5 L572.8,741.2 L575.5,741.8 L578.3,742.5 L581.0,743.2 L583.8,743.8 L586.5,744.4 L589.2,745.1 L592.0,745.7 L594.7,746.3 L597.5,746.9 L600.3,747.5 L603.0,748.1 L605.8,748.7 L608.5,749.2 L611.3,749.8 L614.1,750.4 L616.8,750.9 L619.6,751.5 L622.4,752.0 L625.1,752.5 L627.9,753.0 L630.7,753.5 L633.5,754.0 L636.3,754.5 L639.0,755.0 L641.8,755.5 L644.6,756.0 L647.4,756.4 L650.2,756.9 L653.0,757.3 L655.8,757.8 L658.6,758.2 L661.4,758.6 L664.2,759.1 L667.0,759.5 L669.8,759.9 L672.6,760.3 L675.4,760.6 L678.2,761.0 L681.0,761.4 L683.8,761.7 L686.6,762.1 L689.3,762.4 L692.1,762.7 L694.8,763.0 L697.4,763.2 L700.1,763.4 L702.7,763.6 L705.3,763.8 L707.8,763.9 L710.4,764.0 L712.9,764.0 L715.3,764.0 L717.7,763.9 L720.1,763.8 L722.5,763.6 L724.8,763.4 L727.1,763.1 L729.3,762.7 L731.6,762.3 L733.8,761.9 L736.1,761.3 L738.4,760.7 L740.7,760.0 L743.0,759.3 L745.4,758.5 L747.7,757.7 L750.1,756.8 L752.5,755.8 L755.0,754.8 L757.4,753.8 L759.9,752.7 L762.3,751.5 L764.8,750.4 L767.3,749.2 L769.8,748.0 L772.4,746.8 L774.9,745.5 L777.4,744.3 L779.9,743.0 L782.3,741.7 L784.8,740.4 L787.3,739.1 L789.8,737.8 L792.2,736.5 L794.6,735.2 L797.1,733.8 L799.5,732.5 L801.9,731.1 L804.4,729.7 L806.8,728.3 L809.2,726.9 L811.5,725.5 L813.9,724.1 L816.3,722.7 L818.7,721.2 L821.0,719.8 L823.4,718.3 L825.7,716.8 L828.1,715.3 L830.4,713.8 L832.8,712.3 L835.1,710.8 L837.4,709.3 L839.7,707.7 L842.0,706.2 L844.3,704.6 L846.6,703.0 L848.9,701.4 L851.1,699.8 L853.4,698.2 L855.7,696.6 L857.9,695.0 L860.2,693.4 L862.4,691.7 L864.7,690.1 L866.9,688.4 L869.1,686.7 L871.4,685.0 L873.6,683.3 L875.8,681.6 L878.0,679.9 L880.2,678.2 L882.4,676.5 L884.6,674.7 L886.7,673.0 L888.9,671.2 L891.0,669.5 L893.2,667.7 L895.3,665.9 L897.5,664.1 L899.6,662.3 L901.7,660.5 L903.8,658.7 L905.9,656.8 L907.9,655.0 L910.0,653.1 L912.1,651.3 L914.1,649.4 L916.1,647.5 L918.2,645.6 L920.2,643.7 L922.2,641.8 L924.2,639.9 L926.1,638.0 L928.1,636.0 L930.1,634.1 L932.0,632.1 L933.9,630.1 L935.8,628.1 L937.7,626.1 L939.6,624.1 L941.5,622.1 L943.4,620.1 L945.2,618.0 L947.0,616.0 L948.8,613.9 L950.6,611.9 L952.4,609.8 L954.2,607.7 L956.0,605.6 L957.7,603.5 L959.4,601.4 L961.1,599.3 L962.7,597.2 L964.3,595.1 L965.8,593.0 L967.3,590.9 L968.7,588.9 L970.1,586.8 L971.4,584.7 L972.6,582.7 L973.8,580.6 L974.9,578.6 L976.0,576.5 L977.0,574.4 L977.9,572.3 L978.7,570.2 L979.5,568.1 L980.3,565.9 L981.0,563.7 L981.6,561.4 L982.2,559.1 L982.7,556.8 L983.2,554.5 L983.6,552.1 L983.9,549.7 L984.2,547.3 L984.4,544.9 L984.6,542.5 L984.7,540.1 L984.8,537.6 L984.8,535.1 L984.7,532.7 L984.6,530.3 L984.5,527.8 L984.2,525.4 L983.9,523.0 L983.6,520.6 L983.2,518.3 L982.7,515.9 L982.2,513.6 L981.7,511.4 L981.0,509.1 L980.3,506.9 L979.6,504.7 L978.8,502.6 L977.9,500.5 L977.0,498.5 L976.0,496.4 L975.0,494.3 L973.8,492.3 L972.6,490.2 L971.4,488.1 L970.1,486.1 L968.7,484.0 L967.2,481.9 L965.8,479.8 L964.2,477.8 L962.6,475.7 L961.0,473.6 L959.3,471.5 L957.6,469.3 L955.9,467.2 L954.2,465.1 L952.4,463.0 L950.6,460.9 L948.8,458.9 L947.0,456.8 L945.2,454.7 L943.3,452.7 L941.5,450.7 L939.6,448.7 L937.7,446.6 L935.8,444.6 L933.9,442.7 L932.0,440.7 L930.1,438.7 L928.1,436.8 L926.2,434.8 L924.2,432.9 L922.2,430.9 L920.2,429.0 L918.2,427.1 L916.2,425.2 L914.1,423.3 L912.1,421.5 L910.0,419.6 L908.0,417.7 L905.9,415.9 L903.8,414.1 L901.7,412.2 L899.6,410.4 L897.5,408.6 L895.3,406.8 L893.2,405.0 L891.1,403.3 L888.9,401.5 L886.7,399.8 L884.6,398.0 L882.4,396.3 L880.2,394.5 L878.0,392.8 L875.8,391.1 L873.6,389.4 L871.4,387.7 L869.2,386.1 L866.9,384.4 L864.7,382.7 L862.5,381.1 L860.2,379.5 L858.0,377.8 L855.7,376.2 L853.4,374.6 L851.2,373.0 L848.9,371.4 L846.6,369.8 L844.3,368.3 L842.0,366.7 L839.7,365.2 L837.4,363.6 L835.1,362.1 L832.8,360.6 L830.4,359.1 L828.1,357.6 L825.8,356.1 L823.4,354.6 L821.0,353.2 L818.7,351.7 L816.3,350.3 L813.9,348.8 L811.5,347.4 L809.1,346.0 L806.7,344.6 L804.3,343.2 L801.9,341.8 L799.5,340.4 L797.0,339.1 L794.6,337.7 L792.1,336.3 L789.7,335.0 L787.2,333.7 L784.7,332.3 L782.2,331.0 L779.7,329.7 L777.2,328.4 L774.7,327.1 L772.2,325.9 L769.7,324.6 L767.2,323.4 L764.7,322.2 L762.2,321.0 L759.8,319.9 L757.3,318.8 L754.9,317.7 L752.5,316.7 L750.1,315.8 L747.8,314.9 L745.4,314.1 L743.1,313.3 L740.8,312.6 L738.5,311.9 L736.3,311.4 L734.0,310.8 L731.8,310.4 L729.6,310.0 L727.3,309.7 L725.1,309.5 L722.7,309.3 L720.4,309.1 L717.9,309.0 L715.5,309.0 L713.0,309.0 L710.5,309.0 L708.0,309.1 L705.4,309.2 L702.8,309.4 L700.1,309.6 L697.4,309.8 L694.7,310.1 L692.0,310.4 L689.3,310.7 L686.5,311.0 L683.7,311.3 L680.9,311.7 L678.1,312.0 L675.3,312.4 L672.5,312.7 L669.7,313.1 L666.9,313.5 L664.1,313.9 L661.3,314.3 L658.5,314.7 L655.7,315.1 L652.9,315.5 L650.1,316.0 L647.3,316.4 L644.6,316.9 L641.8,317.3 L639.0,317.8 L636.2,318.3 L633.4,318.8 L630.7,319.3 L627.9,319.8 L625.1,320.3 L622.3,320.8 L619.6,321.3 L616.8,321.9 L614.0,322.4 L611.3,323.0 L608.5,323.5 L605.8,324.1 L603.0,324.7 L600.2,325.3 L597.5,325.8 L594.7,326.4 L592.0,327.1 L589.2,327.7 L586.5,328.3 L583.7,328.9 L581.0,329.6 L578.3,330.2 L575.5,330.9 L572.8,331.5 L570.1,332.2 L567.3,332.9 L564.6,333.6 L561.9,334.3 L559.1,335.0 L556.4,335.7 L553.7,336.4 L551.0,337.1 L548.2,337.9 L545.5,338.6 L542.8,339.4 L540.1,340.1 L537.4,340.9 L534.7,341.6 L532.0,342.4 L529.3,343.2 L526.6,344.0 L523.9,344.8 L521.2,345.6 L518.5,346.4 L515.8,347.2 L513.1,348.1 L510.4,348.9 L507.7,349.8 L505.0,350.6 L502.3,351.5 L499.6,352.3 L497.0,353.2 L494.3,354.1 L491.6,355.0 L488.9,355.9 L486.3,356.8 L483.6,357.7 L480.9,358.6 L478.3,359.5 L475.6,360.5 L472.9,361.4 L470.3,362.4 L467.6,363.3 L465.0,364.3 L462.3,365.2 L459.7,366.2 L457.0,367.2 L454.4,368.2 L451.7,369.2 L449.1,370.2 L446.5,371.2 L443.8,372.2 L441.2,373.2 L438.6,374.2 L435.9,375.3 L433.3,376.3 L430.7,377.3 L428.1,378.4 L425.4,379.5 L422.8,380.5 L420.2,381.6 L417.6,382.7 L415.0,383.8 L412.4,384.9 L409.8,386.0 L407.2,387.1 L404.6,388.2 L402.0,389.3 L399.4,390.4 L396.8,391.6 L394.2,392.7 L391.6,393.8 L389.0,395.0 L386.5,396.1 L383.9,397.3 L381.3,398.5 L378.7,399.6 L376.2,400.8 L373.6,402.0 L371.1,403.2 L368.5,404.4 L366.0,405.6 L363.4,406.8 L360.9,408.1 L358.3,409.3 L355.8,410.5 L353.3,411.8 L350.7,413.0 L348.2,414.3 L345.7,415.5 L343.2,416.8 L340.7,418.1 L338.2,419.4 L335.7,420.6 L333.2,421.9 L330.7,423.3 L328.2,424.6 L325.7,425.9 L323.2,427.2 L320.8,428.6 L318.3,429.9 L315.9,431.3 L313.4,432.6 L310.9,434.0 L308.5,435.4 L306.1,436.7 L303.6,438.1 L301.2,439.5 L298.8,441.0 L296.4,442.4 L294.0,443.8 L291.5,445.2 L289.1,446.7 L286.8,448.1 L284.4,449.6 L282.0,451.1 L279.6,452.5 L277.2,454.0 L274.9,455.5 L272.5,457.0 L270.2,458.5 L267.8,460.1 L265.5,461.6 L263.1,463.1 L260.8,464.7 L258.5,466.2 L256.3,467.8 L254.2,469.3 L252.1,470.8 L250.1,472.3 L248.2,473.8 L246.3,475.3 L244.6,476.8 L242.9,478.3 L241.3,479.9 L239.8,481.5 L238.2,483.2 L236.8,484.9 L235.4,486.7 L234.0,488.5 L232.7,490.3 L231.5,492.2 L230.3,494.2 L229.2,496.1 L228.1,498.1 L227.1,500.2 L226.1,502.3 L225.2,504.4 L224.4,506.5 L223.6,508.7 L222.9,510.9 L222.3,513.1 L221.7,515.4 L221.1,517.7 L220.7,520.0 L220.2,522.3 L219.9,524.6 L219.6,527.0 L219.4,529.3 L219.2,531.7 L219.1,534.0 L219.1,536.4Z" fill="none" stroke="#111" stroke-width="2.05" />
<line x1="249.5" y1="447.5" x2="257.0" y2="459.0" stroke="#111" stroke-width="1.15" />
<line x1="249.5" y1="625.3" x2="257.0" y2="613.8" stroke="#111" stroke-width="1.15" />
<line x1="703.0" y1="290.0" x2="704.4" y2="307.0" stroke="#111" stroke-width="1.15" />
<line x1="703.0" y1="782.8" x2="704.4" y2="765.8" stroke="#111" stroke-width="1.15" />
<line x1="769.4" y1="303.2" x2="763.6" y2="314.1" stroke="#111" stroke-width="1.15" />
<line x1="769.4" y1="769.6" x2="763.6" y2="758.7" stroke="#111" stroke-width="1.15" />
<line x1="971.5" y1="455.0" x2="962.0" y2="463.7" stroke="#111" stroke-width="1.15" />
<line x1="971.5" y1="617.8" x2="962.0" y2="609.1" stroke="#111" stroke-width="1.15" />
<line x1="990.5" y1="536.4" x2="1004.4" y2="536.4" stroke="#111" stroke-width="1.15" />
<line x1="997.5" y1="496.0" x2="1509.0" y2="481.7" stroke="#111" stroke-width="1.75" />
<line x1="997.5" y1="577.0" x2="1526.7" y2="592.3" stroke="#111" stroke-width="1.75" />
<path d="M1509,481.7 A29.2,17.8 0 0 1 1567.3,480.6" fill="none" stroke="#111" stroke-width="1.75" />
<path d="M1513,480.6 L1550,489.5 Q1565,492 1571.3,482" fill="none" stroke="#111" stroke-width="1.5499999999999998" />
<line x1="1511.0" y1="480.2" x2="1571.0" y2="480.8" stroke="#111" stroke-width="1.15" />
<line x1="1567.0" y1="480.4" x2="1655.3" y2="480.4" stroke="#111" stroke-width="1.75" />
<line x1="1589.0" y1="591.9" x2="1655.3" y2="591.9" stroke="#111" stroke-width="1.75" />
<path d="M1655.3,480.4 A23,55.75 0 0 1 1655.3,591.9" fill="none" stroke="#111" stroke-width="2.15" />
<path d="M1587.6,482 C1587.5,496 1580,508 1561.9,509.7" fill="none" stroke="#111" stroke-width="1.5499999999999998" />
<path d="M1586.2,492.8 L1593,513.1 L1587,513.1 Z" fill="none" stroke="#111" stroke-width="1.25" />
<path d="M1543,490 Q1548,498 1549.7,509.7" fill="none" stroke="#111" stroke-width="1.05" />
<path d="M1546,490 Q1551,498 1552.7,509.7" fill="none" stroke="#111" stroke-width="1.05" />
<line x1="1487.4" y1="511.8" x2="1593.0" y2="513.1" stroke="#111" stroke-width="1.5499999999999998" />
<line x1="1486.0" y1="516.5" x2="1544.0" y2="515.2" stroke="#111" stroke-width="1.3499999999999999" />
<path d="M1544.3,515.2 L1563.9,533.4 L1545,553" fill="none" stroke="#111" stroke-width="1.45" />
<line x1="1490.0" y1="556.5" x2="1593.7" y2="555.0" stroke="#111" stroke-width="1.5499999999999998" />
<line x1="1485.4" y1="516.5" x2="1485.4" y2="553.7" stroke="#111" stroke-width="1.65" />
<path d="M1487.4,511.8 C1472,520 1474,550 1490,556.5" fill="none" stroke="#111" stroke-width="1.45" />
<path d="M1563.2,557.8 C1580,560 1590,575 1590.3,591" fill="none" stroke="#111" stroke-width="1.5499999999999998" />
<path d="M1587.6,556.5 L1589,575.4 L1593.7,555.1" fill="none" stroke="#111" stroke-width="1.25" />
<path d="M1552.4,557.8 Q1548,580 1533.4,590.3" fill="none" stroke="#111" stroke-width="1.05" />
<path d="M1555.4,557.8 Q1551,580 1536.4,590.3" fill="none" stroke="#111" stroke-width="1.05" />
<path d="M1526.7,592.3 Q1528,595.7 1531,595.7 L1548,595.7 Q1552,595 1556.5,589.6" fill="none" stroke="#111" stroke-width="1.5499999999999998" />
<path d="M214,1308.9 L991,1308.9" fill="none" stroke="#111" stroke-width="2.15" />
<path d="M214,1308.9 A14.3,20.4 0 0 1 213.5,1268.2" fill="none" stroke="#111" stroke-width="1.95" />
<path d="M991.0,1308.9 L992.0,1308.6 L993.0,1308.3 L994.0,1308.1 L995.0,1307.9 L996.0,1307.6 L997.0,1307.3 L998.0,1307.0 L998.9,1306.6 L999.7,1306.2 L1000.4,1305.6 L1001.0,1304.9 L1001.6,1304.2 L1002.1,1303.4 L1002.5,1302.6 L1002.9,1301.6 L1003.3,1300.7 L1003.6,1299.6 L1003.8,1298.5 L1004.1,1297.4 L1004.3,1296.2 L1004.6,1294.0 L1004.7,1291.4 L1004.7,1288.7 L1004.6,1285.7 L1004.4,1282.6 L1004.2,1279.5 L1003.9,1276.3 L1003.7,1273.1 L1003.4,1270.0 L1003.3,1267.0" fill="none" stroke="#111" stroke-width="1.95" />
<path d="M210.8,1271.4 L217.0,1271.6 L223.2,1271.7 L229.4,1271.8 L235.6,1271.9 L241.8,1271.9 L247.9,1271.9 L254.1,1271.9 L260.3,1271.8 L266.5,1271.7 L272.7,1271.6 L278.9,1271.6 L285.1,1271.5 L291.3,1271.4 L297.5,1271.2 L303.7,1271.2 L309.9,1271.1 L316.1,1271.0 L322.3,1270.9 L328.5,1270.8 L334.6,1270.8 L340.8,1270.7 L347.0,1270.6 L353.2,1270.6 L359.4,1270.5 L365.6,1270.5 L371.8,1270.4 L378.0,1270.4 L384.2,1270.4 L390.4,1270.3 L396.6,1270.3 L402.8,1270.2 L409.0,1270.2 L415.2,1270.2 L421.4,1270.1 L427.6,1270.1 L433.8,1270.1 L440.0,1270.0 L446.2,1270.0 L452.4,1270.0 L458.6,1269.9 L464.8,1269.9 L471.0,1269.9 L477.2,1269.8 L483.3,1269.8 L489.5,1269.7 L495.7,1269.7 L501.9,1269.6 L508.1,1269.6 L514.3,1269.5 L520.5,1269.5 L526.7,1269.4 L532.9,1269.3 L539.1,1269.2 L545.3,1269.1 L551.5,1269.1 L557.7,1269.0 L563.9,1268.9 L570.1,1268.7 L576.3,1268.6 L582.5,1268.5 L588.7,1268.4 L594.9,1268.2 L601.0,1268.1 L607.2,1267.9 L613.4,1267.8 L619.6,1267.6 L625.8,1267.5 L632.0,1267.3 L638.2,1267.1 L644.4,1266.9 L650.6,1266.8 L656.8,1266.6 L663.0,1266.4 L669.2,1266.2 L675.4,1266.0 L681.5,1265.8 L687.7,1265.5 L693.9,1265.3 L700.1,1265.1 L706.3,1264.9 L712.5,1264.7 L718.7,1264.4 L724.9,1264.2 L731.1,1263.9 L737.3,1263.7 L743.4,1263.5 L749.6,1263.2 L755.8,1263.0 L762.0,1262.7 L768.2,1262.5 L774.4,1262.2 L780.6,1261.9 L786.8,1261.7 L793.0,1261.4 L799.1,1261.1 L805.3,1260.9 L811.5,1260.6 L817.7,1260.3 L823.9,1260.1 L830.1,1259.8 L836.3,1259.5 L842.5,1259.2 L848.6,1259.0 L854.8,1258.7 L861.0,1258.4 L867.2,1258.1 L873.4,1257.8 L879.6,1257.6 L885.8,1257.3 L891.9,1257.1 L898.1,1256.9 L904.3,1256.7 L910.5,1256.6 L916.7,1256.4 L922.9,1256.4 L929.1,1256.4 L935.3,1256.4 L941.5,1256.5 L947.7,1256.6" fill="none" stroke="#111" stroke-width="1.25" />
<path d="M201.5,1288.7 L208.1,1288.7 L214.6,1288.6 L221.2,1288.5 L227.8,1288.3 L234.3,1288.2 L240.9,1288.0 L247.5,1287.9 L254.0,1287.7 L260.6,1287.5 L267.2,1287.4 L273.7,1287.2 L280.3,1287.0 L286.9,1286.9 L293.4,1286.7 L300.0,1286.6 L306.6,1286.5 L313.1,1286.3 L319.7,1286.2 L326.3,1286.1 L332.8,1286.0 L339.4,1286.0 L346.0,1285.9 L352.5,1285.8 L359.1,1285.8 L365.7,1285.7 L372.2,1285.7 L378.8,1285.7 L385.4,1285.6 L391.9,1285.6 L398.5,1285.6 L405.1,1285.6 L411.6,1285.6 L418.2,1285.6 L424.8,1285.6 L431.3,1285.6 L437.9,1285.7 L444.5,1285.7 L451.1,1285.7 L457.6,1285.8 L464.2,1285.8 L470.8,1285.8 L477.3,1285.9 L483.9,1285.9 L490.5,1286.0 L497.0,1286.0 L503.6,1286.1 L510.2,1286.2 L516.7,1286.2 L523.3,1286.3 L529.9,1286.3 L536.4,1286.4 L543.0,1286.5 L549.6,1286.5 L556.2,1286.6 L562.7,1286.7 L569.3,1286.7 L575.9,1286.8 L582.4,1286.8 L589.0,1286.9 L595.6,1287.0 L602.1,1287.0 L608.7,1287.1 L615.3,1287.1 L621.8,1287.2 L628.4,1287.2 L635.0,1287.2 L641.5,1287.3 L648.1,1287.3 L654.7,1287.3 L661.2,1287.4 L667.8,1287.4 L674.4,1287.4 L680.9,1287.4 L687.5,1287.4 L694.1,1287.4 L700.6,1287.4 L707.2,1287.4 L713.8,1287.4 L720.3,1287.4 L726.9,1287.4 L733.5,1287.3 L740.0,1287.3 L746.6,1287.2 L753.2,1287.2 L759.7,1287.1 L766.3,1287.0 L772.9,1286.9 L779.4,1286.9 L786.0,1286.8 L792.6,1286.6 L799.1,1286.5 L805.7,1286.4 L812.3,1286.3 L818.8,1286.1 L825.4,1286.0 L832.0,1285.8 L838.5,1285.6 L845.1,1285.4 L851.7,1285.2 L858.2,1285.0 L864.8,1284.8 L871.4,1284.6 L877.9,1284.3 L884.5,1284.1 L891.1,1283.8 L897.6,1283.6 L904.2,1283.4 L910.7,1283.1 L917.3,1282.9 L923.9,1282.7 L930.4,1282.5 L937.0,1282.4 L943.6,1282.2 L950.2,1282.1 L956.7,1282.1 L963.3,1282.0 L969.9,1282.0 L976.4,1282.0 L983.0,1282.1" fill="none" stroke="#111" stroke-width="1.25" />
<path d="M983.0,1282.2 L984.1,1281.8 L985.3,1281.5 L986.4,1281.2 L987.6,1280.9 L988.8,1280.5 L989.9,1280.2 L991.0,1279.8 L992.1,1279.4 L993.1,1279.0 L994.0,1278.5 L994.7,1278.0 L995.4,1277.6 L996.1,1277.0 L996.7,1276.5 L997.3,1276.0 L997.9,1275.4 L998.5,1274.8 L999.0,1274.2 L999.5,1273.6 L1000.0,1273.0 L1000.4,1272.4 L1000.8,1271.9 L1001.1,1271.3 L1001.5,1270.7 L1001.8,1270.1 L1002.1,1269.4 L1002.4,1268.8 L1002.7,1268.2 L1003.0,1267.6 L1003.3,1267.0" fill="none" stroke="#111" stroke-width="1.25" />
<line x1="201.5" y1="1292.3" x2="1003.3" y2="1292.3" stroke="#111" stroke-width="1.25" />
<path d="M214.5,1267.4 L272.0,1229.5 L332.7,1191.9" fill="none" stroke="#111" stroke-width="1.95" />
<path d="M332.7,1191.9 L336.9,1194.5 L344.2,1195" fill="none" stroke="#111" stroke-width="1.65" />
<path d="M336.8,1189.5 L339.1,1188.3 L341.4,1187.0 L343.7,1185.8 L346.0,1184.6 L348.4,1183.3 L350.7,1182.1 L353.0,1180.8 L355.3,1179.6 L357.7,1178.4 L360.0,1177.1 L362.3,1175.9 L364.7,1174.7 L367.0,1173.5 L369.3,1172.2 L371.7,1171.0 L374.0,1169.8 L376.3,1168.6 L378.7,1167.4 L381.0,1166.2 L383.4,1165.0 L385.7,1163.8 L388.1,1162.6 L390.4,1161.4 L392.8,1160.2 L395.1,1159.0 L397.5,1157.8 L399.8,1156.6 L402.2,1155.4 L404.5,1154.2 L406.9,1153.1 L409.3,1151.9 L411.6,1150.7 L414.0,1149.5 L416.4,1148.4 L418.7,1147.2 L421.1,1146.1 L423.5,1144.9 L425.9,1143.8 L428.2,1142.6 L430.6,1141.5 L433.0,1140.3 L435.4,1139.2 L437.8,1138.1 L440.2,1136.9 L442.5,1135.8 L444.9,1134.7 L447.3,1133.6 L449.7,1132.5 L452.1,1131.4 L454.5,1130.3 L456.9,1129.2 L459.3,1128.1 L461.7,1127.0 L464.1,1125.9 L466.5,1124.8 L469.0,1123.8 L471.4,1122.7 L473.8,1121.6 L476.2,1120.6 L478.6,1119.5 L481.0,1118.4 L483.5,1117.4 L485.9,1116.4 L488.3,1115.3 L490.7,1114.3 L493.2,1113.3 L495.6,1112.2 L498.0,1111.2 L500.5,1110.2 L502.9,1109.2 L505.3,1108.2 L507.8,1107.2 L510.2,1106.2 L512.7,1105.2 L515.1,1104.2 L517.6,1103.3 L520.0,1102.3 L522.5,1101.3 L524.9,1100.4 L527.4,1099.4 L529.8,1098.5 L532.3,1097.5 L534.8,1096.6 L537.2,1095.7 L539.7,1094.7 L542.2,1093.8 L544.7,1092.9 L547.1,1092.0 L549.6,1091.1 L552.1,1090.2 L554.6,1089.3 L557.1,1088.4 L559.5,1087.6 L562.0,1086.7 L564.5,1085.8 L567.0,1085.0 L569.5,1084.1 L572.0,1083.3 L574.5,1082.4 L577.0,1081.6 L579.5,1080.8 L582.0,1080.0 L584.5,1079.2 L587.0,1078.4 L589.6,1077.6 L592.1,1076.8 L594.6,1076.0 L597.1,1075.2 L599.6,1074.5 L602.2,1073.7 L604.7,1072.9 L607.2,1072.2 L609.7,1071.5 L612.3,1070.7 L614.8,1070.0 L617.4,1069.3 L619.9,1068.6 L622.4,1067.9 L625.0,1067.2" fill="none" stroke="#111" stroke-width="1.95" />
<path d="M625.0,1067.2 L625.4,1067.3 L625.8,1067.4 L626.2,1067.5 L626.7,1067.6 L627.1,1067.7 L627.5,1067.8 L627.9,1067.9 L628.1,1068.1 L628.4,1068.3 L628.5,1068.5 L628.5,1069.0 L628.2,1069.7 L627.8,1070.6 L627.1,1071.5 L626.4,1072.5 L625.5,1073.5 L624.6,1074.4 L623.7,1075.4 L622.8,1076.2 L622.0,1077.0 L621.2,1077.6 L620.4,1078.3 L619.6,1078.8 L618.8,1079.4 L617.9,1079.9 L617.0,1080.4 L616.1,1080.9 L615.2,1081.3 L614.2,1081.7 L613.3,1082.1 L612.3,1082.4 L611.3,1082.7 L610.3,1083.0 L609.3,1083.2 L608.3,1083.4 L607.2,1083.6 L606.2,1083.7 L605.2,1083.9 L604.1,1084.1 L603.1,1084.3" fill="none" stroke="#111" stroke-width="1.45" />
<path d="M341.0,1190.9 L343.3,1190.0 L345.5,1189.1 L347.7,1188.2 L349.9,1187.3 L352.1,1186.4 L354.3,1185.5 L356.5,1184.6 L358.7,1183.7 L360.9,1182.7 L363.0,1181.8 L365.2,1180.9 L367.4,1180.0 L369.6,1179.0 L371.8,1178.1 L374.0,1177.2 L376.2,1176.2 L378.4,1175.3 L380.6,1174.3 L382.7,1173.4 L384.9,1172.4 L387.1,1171.5 L389.3,1170.5 L391.5,1169.6 L393.6,1168.6 L395.8,1167.7 L398.0,1166.7 L400.2,1165.7 L402.4,1164.8 L404.5,1163.8 L406.7,1162.9 L408.9,1161.9 L411.1,1160.9 L413.2,1160.0 L415.4,1159.0 L417.6,1158.0 L419.8,1157.0 L421.9,1156.1 L424.1,1155.1 L426.3,1154.1 L428.5,1153.2 L430.6,1152.2 L432.8,1151.2 L435.0,1150.2 L437.2,1149.3 L439.3,1148.3 L441.5,1147.3 L443.7,1146.3 L445.9,1145.4 L448.0,1144.4 L450.2,1143.4 L452.4,1142.5 L454.5,1141.5 L456.7,1140.5 L458.9,1139.6 L461.1,1138.6 L463.3,1137.6 L465.4,1136.7 L467.6,1135.7 L469.8,1134.8 L472.0,1133.8 L474.2,1132.8 L476.3,1131.9 L478.5,1130.9 L480.7,1130.0 L482.9,1129.0 L485.1,1128.1 L487.2,1127.1 L489.4,1126.2 L491.6,1125.3 L493.8,1124.3 L496.0,1123.4 L498.2,1122.5 L500.4,1121.5 L502.6,1120.6 L504.8,1119.7 L507.0,1118.8 L509.2,1117.9 L511.4,1116.9 L513.6,1116.0 L515.8,1115.1 L518.0,1114.2 L520.2,1113.3 L522.4,1112.4 L524.6,1111.6 L526.8,1110.7 L529.0,1109.8 L531.2,1108.9 L533.4,1108.0 L535.6,1107.2 L537.9,1106.3 L540.1,1105.4 L542.3,1104.6 L544.5,1103.7 L546.7,1102.9 L549.0,1102.1 L551.2,1101.2 L553.4,1100.4 L555.7,1099.6 L557.9,1098.7 L560.1,1097.9 L562.4,1097.1 L564.6,1096.3 L566.9,1095.5 L569.1,1094.7 L571.4,1094.0 L573.6,1093.2 L575.9,1092.4 L578.1,1091.6 L580.4,1090.9 L582.6,1090.1 L584.9,1089.4 L587.2,1088.6 L589.4,1087.9 L591.7,1087.2 L594.0,1086.5 L596.3,1085.7 L598.6,1085.0 L600.8,1084.3 L603.1,1083.6" fill="none" stroke="#111" stroke-width="1.05" />
<path d="M344.2,1195.1 L346.4,1194.1 L348.5,1193.1 L350.7,1192.2 L352.8,1191.2 L355.0,1190.2 L357.1,1189.2 L359.3,1188.2 L361.4,1187.2 L363.6,1186.2 L365.7,1185.2 L367.9,1184.3 L370.0,1183.3 L372.1,1182.3 L374.3,1181.3 L376.4,1180.3 L378.6,1179.3 L380.7,1178.3 L382.9,1177.3 L385.0,1176.3 L387.1,1175.3 L389.3,1174.3 L391.4,1173.3 L393.6,1172.3 L395.7,1171.3 L397.9,1170.3 L400.0,1169.3 L402.1,1168.3 L404.3,1167.3 L406.4,1166.3 L408.6,1165.3 L410.7,1164.3 L412.9,1163.4 L415.0,1162.4 L417.2,1161.4 L419.3,1160.4 L421.4,1159.4 L423.6,1158.4 L425.7,1157.4 L427.9,1156.4 L430.0,1155.4 L432.2,1154.4 L434.3,1153.4 L436.5,1152.5 L438.6,1151.5 L440.8,1150.5 L442.9,1149.5 L445.1,1148.5 L447.2,1147.5 L449.4,1146.6 L451.5,1145.6 L453.7,1144.6 L455.8,1143.6 L458.0,1142.7 L460.1,1141.7 L462.3,1140.7 L464.4,1139.8 L466.6,1138.8 L468.8,1137.8 L470.9,1136.9 L473.1,1135.9 L475.2,1135.0 L477.4,1134.0 L479.6,1133.1 L481.7,1132.1 L483.9,1131.2 L486.1,1130.2 L488.2,1129.3 L490.4,1128.4 L492.6,1127.4 L494.7,1126.5 L496.9,1125.6 L499.1,1124.6 L501.3,1123.7 L503.4,1122.8 L505.6,1121.9 L507.8,1121.0 L510.0,1120.1 L512.2,1119.2 L514.3,1118.3 L516.5,1117.4 L518.7,1116.5 L520.9,1115.6 L523.1,1114.7 L525.3,1113.8 L527.5,1112.9 L529.7,1112.1 L531.9,1111.2 L534.0,1110.3 L536.2,1109.5 L538.4,1108.6 L540.7,1107.8 L542.9,1106.9 L545.1,1106.1 L547.3,1105.2 L549.5,1104.4 L551.7,1103.5 L553.9,1102.7 L556.1,1101.9 L558.3,1101.1 L560.6,1100.3 L562.8,1099.5 L565.0,1098.7 L567.2,1097.9 L569.4,1097.1 L571.7,1096.3 L573.9,1095.5 L576.1,1094.7 L578.4,1093.9 L580.6,1093.2 L582.9,1092.4 L585.1,1091.7 L587.3,1090.9 L589.6,1090.2 L591.8,1089.4 L594.1,1088.7 L596.3,1088.0 L598.6,1087.3 L600.9,1086.5 L603.1,1085.8" fill="none" stroke="#111" stroke-width="1.05" />
<path d="M336.9,1189.8 L336.7,1190.1 L336.6,1190.3 L336.4,1190.6 L336.2,1190.9 L336.0,1191.2 L335.8,1191.5 L335.6,1191.7 L335.5,1192.0 L335.5,1192.2 L335.5,1192.5 L335.6,1192.8 L335.8,1193.1 L336.0,1193.4 L336.3,1193.7 L336.6,1193.9 L337.0,1194.2 L337.3,1194.4 L337.7,1194.7 L338.1,1194.8 L338.5,1195.0 L339.0,1195.1 L339.5,1195.2 L340.0,1195.2 L340.6,1195.2 L341.2,1195.2 L341.8,1195.2 L342.4,1195.1 L343.0,1195.1 L343.6,1195.0 L344.2,1195.0" fill="none" stroke="#111" stroke-width="1.3499999999999999" />
<path d="M628.8,1065.7 L631.2,1065.0 L633.7,1064.2 L636.1,1063.5 L638.6,1062.8 L641.0,1062.1 L643.5,1061.5 L646.0,1060.8 L648.5,1060.1 L651.0,1059.5 L653.5,1058.8 L656.0,1058.2 L658.5,1057.5 L661.0,1056.9 L663.6,1056.3 L666.1,1055.7 L668.6,1055.1 L671.2,1054.5 L673.7,1053.9 L676.3,1053.4 L678.8,1052.8 L681.4,1052.3 L684.0,1051.8 L686.6,1051.2 L689.1,1050.7 L691.7,1050.2 L694.3,1049.8 L696.9,1049.3 L699.5,1048.8 L702.1,1048.4 L704.7,1047.9 L707.3,1047.5 L709.9,1047.1 L712.5,1046.7 L715.1,1046.3 L717.8,1046.0 L720.4,1045.6 L723.0,1045.3 L725.6,1045.0 L728.3,1044.7 L730.9,1044.4 L733.5,1044.1 L736.1,1043.8 L738.8,1043.6 L741.4,1043.4 L744.0,1043.2 L746.7,1043.0 L749.3,1042.8 L751.9,1042.6 L754.6,1042.5 L757.2,1042.4 L759.8,1042.2 L762.5,1042.2 L765.1,1042.1 L767.7,1042.0 L770.4,1042.0 L773.0,1042.0 L775.6,1042.0 L778.3,1042.0 L780.9,1042.0 L783.5,1042.1 L786.1,1042.2 L788.8,1042.3 L791.4,1042.4 L794.0,1042.5 L796.6,1042.7 L799.2,1042.9 L801.8,1043.1 L804.4,1043.3 L807.0,1043.5 L809.6,1043.8 L812.2,1044.1 L814.8,1044.4 L817.4,1044.7 L820.0,1045.1 L822.5,1045.5 L825.1,1045.9 L827.7,1046.3 L830.2,1046.8 L832.8,1047.2 L835.3,1047.7 L837.9,1048.2 L840.4,1048.8 L843.0,1049.4 L845.5,1050.0 L848.0,1050.6 L850.5,1051.2 L853.0,1051.9 L855.5,1052.6 L858.0,1053.3 L860.5,1054.1 L863.0,1054.8 L865.4,1055.6 L867.9,1056.5 L870.4,1057.3 L872.8,1058.2 L875.2,1059.1 L877.7,1060.1 L880.1,1061.0 L882.5,1062.0 L884.9,1063.0 L887.3,1064.1 L889.7,1065.2 L892.0,1066.3 L894.4,1067.4 L896.7,1068.6 L899.1,1069.8 L901.4,1071.0 L903.7,1072.3 L906.0,1073.6 L908.3,1074.9 L910.6,1076.2 L912.9,1077.6 L915.1,1079.0 L917.4,1080.5 L919.6,1081.9 L921.9,1083.4 L924.1,1085.0 L926.3,1086.5 L928.4,1088.2" fill="none" stroke="#111" stroke-width="1.95" />
<path d="M262.9,1248.5 L268.6,1245.6 L274.3,1242.7 L280.0,1239.9 L285.7,1237.1 L291.5,1234.3 L297.3,1231.5 L303.1,1228.8 L308.9,1226.1 L314.7,1223.5 L320.5,1220.8 L326.3,1218.1 L332.2,1215.5 L338.0,1212.9 L343.8,1210.3 L349.7,1207.6 L355.5,1205.0 L361.3,1202.4 L367.2,1199.8 L373.0,1197.1 L378.8,1194.5 L384.6,1191.8 L390.4,1189.1 L396.2,1186.4 L402.0,1183.7 L407.8,1181.0 L413.6,1178.4 L419.4,1175.7 L425.3,1173.1 L431.1,1170.6 L437.0,1168.0 L442.9,1165.5 L448.8,1163.1 L454.7,1160.8 L460.7,1158.5 L466.7,1156.2 L472.7,1154.0 L478.7,1151.9 L484.8,1149.8 L490.9,1147.7 L496.9,1145.7 L503.0,1143.6 L509.1,1141.6 L515.2,1139.6 L521.3,1137.6 L527.4,1135.6 L533.5,1133.6 L539.5,1131.6 L545.6,1129.7 L551.7,1127.7 L557.8,1125.8 L563.9,1124.0 L570.1,1122.2 L576.2,1120.4 L582.3,1118.7 L588.5,1117.1 L594.6,1115.5 L600.8,1114.0 L607.0,1112.6 L613.2,1111.2 L619.4,1110.0 L625.7,1108.7 L631.9,1107.5 L638.2,1106.4 L644.5,1105.3 L650.9,1104.2 L657.2,1103.1 L663.6,1102.1 L670.0,1101.2 L676.4,1100.3 L682.8,1099.5 L689.2,1098.8 L695.6,1098.1 L702.1,1097.6 L708.5,1097.1 L714.9,1096.8 L721.3,1096.5 L727.7,1096.4 L734.1,1096.4 L740.5,1096.5 L746.9,1096.8 L753.3,1097.3 L759.6,1097.9 L765.9,1098.6 L772.3,1099.6 L778.5,1100.7 L784.8,1102.0 L791.0,1103.4 L797.2,1105.1 L803.3,1106.9 L809.3,1108.9 L815.4,1111.0 L821.3,1113.4 L827.2,1115.9 L833.0,1118.6 L838.7,1121.4 L844.4,1124.4 L849.9,1127.6 L855.4,1130.9 L860.7,1134.4 L866.0,1138.1 L871.1,1141.9 L876.1,1145.9 L881.0,1150.0 L885.7,1154.3 L890.4,1158.7 L894.9,1163.3 L899.2,1168.0 L903.4,1172.9 L907.4,1177.9 L911.3,1183.1 L914.9,1188.3 L918.5,1193.7 L921.8,1199.2 L924.9,1204.9 L927.8,1210.6 L930.5,1216.4 L933.0,1222.2 L935.3,1228.2 L937.3,1234.2" fill="none" stroke="#111" stroke-width="1.15" />
<path d="M216.1,1268.1 L222.9,1266.4 L229.6,1264.4 L236.3,1262.2 L242.9,1259.7 L249.4,1257.1 L255.9,1254.4 L262.4,1251.5 L268.8,1248.6 L275.2,1245.5 L281.6,1242.5 L288.0,1239.4 L294.4,1236.4 L300.8,1233.4 L307.3,1230.4 L313.7,1227.5 L320.2,1224.6 L326.6,1221.8 L333.1,1219.0 L339.6,1216.2 L346.1,1213.5 L352.6,1210.8 L359.1,1208.1 L365.6,1205.5 L372.1,1202.8 L378.6,1200.2 L385.2,1197.6 L391.7,1195.1 L398.3,1192.5 L404.9,1190.0 L411.4,1187.4 L418.0,1184.9 L424.6,1182.4 L431.2,1179.9 L437.8,1177.4 L444.4,1174.9 L451.0,1172.3 L457.6,1169.8 L464.3,1167.3 L470.9,1164.8 L477.5,1162.3 L484.2,1159.8 L490.8,1157.3 L497.5,1154.8 L504.2,1152.4 L510.8,1150.0 L517.5,1147.7 L524.2,1145.4 L530.9,1143.2 L537.7,1141.0 L544.4,1138.9 L551.2,1136.9 L557.9,1134.9 L564.7,1133.0 L571.5,1131.3 L578.4,1129.6 L585.2,1128.0 L592.1,1126.5 L598.9,1125.1 L605.8,1123.8 L612.8,1122.7 L619.7,1121.6 L626.7,1120.5 L633.6,1119.4 L640.6,1118.4 L647.6,1117.3 L654.6,1116.2 L661.6,1115.1 L668.6,1114.0 L675.6,1112.9 L682.7,1111.9 L689.7,1111.0 L696.7,1110.1 L703.8,1109.3 L710.8,1108.7 L717.9,1108.2 L724.9,1107.8 L732.0,1107.6 L739.0,1107.6 L746.1,1107.8 L753.1,1108.2 L760.1,1108.7 L767.1,1109.5 L774.1,1110.4 L781.0,1111.6 L787.9,1113.0 L794.8,1114.5 L801.5,1116.3 L808.3,1118.4 L814.9,1120.6 L821.5,1123.1 L828.0,1125.7 L834.5,1128.7 L840.8,1131.8 L847.1,1135.2 L853.2,1138.8 L859.2,1142.7 L865.1,1146.7 L870.8,1151.0 L876.4,1155.4 L881.9,1160.0 L887.1,1164.8 L892.2,1169.8 L897.0,1174.9 L901.7,1180.2 L906.2,1185.6 L910.5,1191.1 L914.6,1196.7 L918.6,1202.5 L922.5,1208.3 L926.2,1214.3 L929.8,1220.3 L933.3,1226.4 L936.8,1232.6 L940.1,1238.8 L943.4,1245.0 L946.7,1251.3 L949.9,1257.6 L953.9,1263.2 L960.5,1266.5" fill="none" stroke="#111" stroke-width="2.15" />
<line x1="960.6" y1="1266.6" x2="1003.3" y2="1266.6" stroke="#111" stroke-width="2.35" />
<path d="M969.1,1157.0 L969.9,1157.4 L970.7,1157.9 L971.4,1158.4 L972.1,1159.0 L972.7,1159.6 L973.4,1160.2 L974.0,1160.8 L974.6,1161.5 L975.1,1162.2 L975.7,1163.0 L976.2,1163.7 L976.7,1164.5 L977.2,1165.3 L977.6,1166.1 L978.1,1167.0 L978.5,1167.9 L978.9,1168.8 L979.3,1169.7 L979.7,1170.6 L980.0,1171.5 L980.4,1172.5 L980.7,1173.4 L981.0,1174.4 L981.4,1175.4 L981.7,1176.4 L982.0,1177.4 L982.3,1178.4 L982.6,1179.4 L982.9,1180.4 L983.1,1181.4 L983.4,1182.4 L983.7,1183.4 L984.0,1184.4 L984.3,1185.5 L984.5,1186.5 L984.8,1187.4 L985.1,1188.4 L985.4,1189.4 L985.7,1190.4 L986.0,1191.4 L986.2,1192.4 L986.5,1193.3 L986.8,1194.3 L987.1,1195.3 L987.4,1196.2 L987.7,1197.2 L988.0,1198.1 L988.2,1199.1 L988.5,1200.1 L988.8,1201.0 L989.1,1201.9 L989.4,1202.9 L989.7,1203.8 L989.9,1204.8 L990.2,1205.7 L990.5,1206.6 L990.8,1207.6 L991.1,1208.5 L991.3,1209.4 L991.6,1210.4 L991.9,1211.3 L992.1,1212.2 L992.4,1213.1 L992.7,1214.1 L993.0,1215.0 L993.2,1215.9 L993.5,1216.8 L993.8,1217.8 L994.0,1218.7 L994.3,1219.6 L994.5,1220.5 L994.8,1221.4 L995.0,1222.4 L995.3,1223.3 L995.5,1224.2 L995.8,1225.1 L996.0,1226.1 L996.3,1227.0 L996.5,1227.9 L996.7,1228.8 L997.0,1229.8 L997.2,1230.7 L997.4,1231.6 L997.6,1232.5 L997.8,1233.5 L998.1,1234.4 L998.3,1235.3 L998.5,1236.3 L998.7,1237.2 L998.9,1238.2 L999.1,1239.1 L999.3,1240.1 L999.5,1241.0 L999.6,1242.0 L999.8,1242.9 L1000.0,1243.9 L1000.2,1244.8 L1000.3,1245.8 L1000.5,1246.8 L1000.7,1247.7 L1000.8,1248.7 L1001.0,1249.7 L1001.1,1250.7 L1001.3,1251.7 L1001.4,1252.7 L1001.5,1253.6 L1001.6,1254.6 L1001.8,1255.6 L1001.9,1256.7 L1002.0,1257.7 L1002.1,1258.7 L1002.2,1259.7 L1002.3,1260.7 L1002.4,1261.8 L1002.4,1262.8 L1002.5,1263.8 L1002.6,1264.9 L1002.6,1265.9 L1002.7,1267.0" fill="none" stroke="#111" stroke-width="1.95" />
<path d="M283.4,1222.3 L252,1272.7 Q246.8,1282 247.9,1294 Q249,1303 254.5,1308.6" fill="none" stroke="#111" stroke-width="1.05" />
<path d="M252,1272.7 Q248.3,1282 249.4,1294 Q250.5,1302.5 255.8,1308.6" fill="none" stroke="#111" stroke-width="0.9500000000000001" />
<line x1="361.9" y1="1187.7" x2="354.6" y2="1204.4" stroke="#111" stroke-width="1.15" />
<path d="M521.5,1115.6 L521.4,1115.9 L521.2,1116.2 L521.1,1116.4 L520.9,1116.7 L520.8,1117.0 L520.6,1117.3 L520.5,1117.5 L520.4,1117.8 L520.2,1118.1 L520.1,1118.4 L520.0,1118.6 L519.9,1118.9 L519.7,1119.2 L519.6,1119.5 L519.5,1119.8 L519.4,1120.0 L519.3,1120.3 L519.1,1120.6 L519.0,1120.9 L518.9,1121.1 L518.8,1121.4 L518.7,1121.7 L518.6,1122.0 L518.5,1122.2 L518.4,1122.5 L518.3,1122.8 L518.2,1123.1 L518.1,1123.4 L518.0,1123.6 L517.9,1123.9 L517.9,1124.2 L517.8,1124.5 L517.7,1124.7 L517.6,1125.0 L517.5,1125.3 L517.5,1125.6 L517.4,1125.8 L517.3,1126.1 L517.2,1126.4 L517.2,1126.7 L517.1,1126.9 L517.1,1127.2 L517.0,1127.5 L516.9,1127.8 L516.9,1128.1 L516.8,1128.3 L516.8,1128.6 L516.7,1128.9 L516.7,1129.2 L516.6,1129.4 L516.6,1129.7 L516.5,1130.0 L516.5,1130.3 L516.5,1130.5 L516.4,1130.8 L516.4,1131.1 L516.4,1131.4 L516.3,1131.6 L516.3,1131.9 L516.3,1132.2 L516.3,1132.5 L516.2,1132.7 L516.2,1133.0 L516.2,1133.3 L516.2,1133.6 L516.2,1133.8 L516.2,1134.1 L516.2,1134.4 L516.1,1134.7 L516.1,1134.9 L516.1,1135.2 L516.1,1135.5 L516.1,1135.8 L516.1,1136.0 L516.2,1136.3 L516.2,1136.6 L516.2,1136.9 L516.2,1137.1 L516.2,1137.4 L516.2,1137.7 L516.2,1138.0 L516.3,1138.2 L516.3,1138.5 L516.3,1138.8 L516.3,1139.1 L516.4,1139.3 L516.4,1139.6 L516.4,1139.9 L516.5,1140.2 L516.5,1140.4 L516.5,1140.7 L516.6,1141.0 L516.6,1141.3 L516.7,1141.5 L516.7,1141.8 L516.8,1142.1 L516.8,1142.4 L516.9,1142.6 L516.9,1142.9 L517.0,1143.2 L517.0,1143.5 L517.1,1143.7 L517.2,1144.0 L517.2,1144.3 L517.3,1144.6 L517.4,1144.8 L517.5,1145.1 L517.5,1145.4 L517.6,1145.7 L517.7,1145.9 L517.8,1146.2 L517.9,1146.5 L517.9,1146.8 L518.0,1147.0 L518.1,1147.3 L518.2,1147.6 L518.3,1147.9 L518.4,1148.1 L518.5,1148.4" fill="none" stroke="#111" stroke-width="1.15" />
<path d="M731.7,1045.0 L731.3,1047.2 L731.0,1049.4 L730.6,1051.6 L730.3,1053.8 L729.9,1056.0 L729.6,1058.2 L729.2,1060.4 L728.9,1062.6 L728.5,1064.8 L728.2,1067.0 L727.9,1069.3 L727.5,1071.5 L727.2,1073.7 L726.8,1075.9 L726.5,1078.1 L726.2,1080.3 L725.8,1082.5 L725.5,1084.7 L725.2,1086.9 L724.9,1089.1 L724.5,1091.3 L724.2,1093.5 L723.9,1095.7 L723.6,1098.0 L723.2,1100.2 L722.9,1102.4 L722.6,1104.6 L722.3,1106.8 L722.0,1109.0 L721.7,1111.2 L721.3,1113.4 L721.0,1115.6 L720.7,1117.9 L720.4,1120.1 L720.1,1122.3 L719.8,1124.5 L719.5,1126.7 L719.2,1128.9 L718.9,1131.1 L718.6,1133.3 L718.3,1135.6 L718.0,1137.8 L717.7,1140.0 L717.5,1142.2 L717.2,1144.4 L716.9,1146.6 L716.6,1148.8 L716.3,1151.1 L716.0,1153.3 L715.8,1155.5 L715.5,1157.7 L715.2,1159.9 L715.0,1162.1 L714.7,1164.4 L714.4,1166.6 L714.2,1168.8 L713.9,1171.0 L713.6,1173.2 L713.4,1175.4 L713.1,1177.7 L712.9,1179.9 L712.6,1182.1 L712.4,1184.3 L712.1,1186.5 L711.9,1188.8 L711.6,1191.0 L711.4,1193.2 L711.2,1195.4 L710.9,1197.6 L710.7,1199.9 L710.5,1202.1 L710.2,1204.3 L710.0,1206.5 L709.8,1208.8 L709.6,1211.0 L709.3,1213.2 L709.1,1215.4 L708.9,1217.6 L708.7,1219.9 L708.5,1222.1 L708.3,1224.3 L708.1,1226.5 L707.9,1228.8 L707.7,1231.0 L707.5,1233.2 L707.3,1235.4 L707.1,1237.7 L706.9,1239.9 L706.7,1242.1 L706.5,1244.3 L706.4,1246.6 L706.2,1248.8 L706.0,1251.0 L705.8,1253.2 L705.7,1255.5 L705.5,1257.7 L705.3,1259.9 L705.2,1262.2 L705.0,1264.4 L704.9,1266.6 L704.7,1268.8 L704.6,1271.1 L704.4,1273.3 L704.3,1275.5 L704.1,1277.8 L704.0,1280.0 L703.9,1282.2 L703.7,1284.4 L703.6,1286.7 L703.5,1288.9 L703.4,1291.1 L703.2,1293.4 L703.1,1295.6 L703.0,1297.8 L702.9,1300.1 L702.8,1302.3 L702.7,1304.5 L702.6,1306.8 L702.5,1309.0" fill="none" stroke="#111" stroke-width="1.15" />
<path d="M805.0,1044.2 L804.8,1046.0 L804.6,1047.9 L804.3,1049.7 L804.1,1051.6 L803.9,1053.4 L803.6,1055.2 L803.4,1057.1 L803.1,1058.9 L802.9,1060.7 L802.6,1062.6 L802.4,1064.4 L802.1,1066.3 L801.8,1068.1 L801.6,1069.9 L801.3,1071.7 L801.0,1073.6 L800.7,1075.4 L800.5,1077.2 L800.2,1079.1 L799.9,1080.9 L799.6,1082.7 L799.4,1084.6 L799.1,1086.4 L798.8,1088.2 L798.5,1090.0 L798.2,1091.9 L797.9,1093.7 L797.7,1095.5 L797.4,1097.4 L797.1,1099.2 L796.8,1101.0 L796.5,1102.8 L796.3,1104.7 L796.0,1106.5 L795.7,1108.3 L795.4,1110.2 L795.2,1112.0 L794.9,1113.8 L794.6,1115.7 L794.4,1117.5 L794.1,1119.3 L793.8,1121.1 L793.6,1123.0 L793.3,1124.8 L793.1,1126.6 L792.8,1128.5 L792.5,1130.3 L792.3,1132.1 L792.0,1134.0 L791.8,1135.8 L791.6,1137.6 L791.3,1139.5 L791.1,1141.3 L790.8,1143.2 L790.6,1145.0 L790.3,1146.8 L790.1,1148.7 L789.9,1150.5 L789.6,1152.3 L789.4,1154.2 L789.2,1156.0 L788.9,1157.8 L788.7,1159.7 L788.5,1161.5 L788.2,1163.4 L788.0,1165.2 L787.8,1167.0 L787.6,1168.9 L787.3,1170.7 L787.1,1172.5 L786.9,1174.4 L786.6,1176.2 L786.4,1178.1 L786.2,1179.9 L786.0,1181.7 L785.7,1183.6 L785.5,1185.4 L785.3,1187.3 L785.1,1189.1 L784.8,1190.9 L784.6,1192.8 L784.4,1194.6 L784.1,1196.4 L783.9,1198.3 L783.7,1200.1 L783.4,1202.0 L783.2,1203.8 L783.0,1205.6 L782.7,1207.5 L782.5,1209.3 L782.3,1211.1 L782.0,1213.0 L781.8,1214.8 L781.6,1216.7 L781.3,1218.5 L781.1,1220.3 L780.8,1222.2 L780.6,1224.0 L780.3,1225.8 L780.1,1227.7 L779.9,1229.5 L779.6,1231.3 L779.3,1233.2 L779.1,1235.0 L778.8,1236.9 L778.6,1238.7 L778.3,1240.5 L778.1,1242.4 L777.8,1244.2 L777.5,1246.0 L777.3,1247.9 L777.0,1249.7 L776.7,1251.5 L776.4,1253.3 L776.2,1255.2 L775.9,1257.0 L775.6,1258.8 L775.3,1260.7 L775.0,1262.5" fill="none" stroke="#111" stroke-width="1.15" />
<path d="M762.5,1264.0 L763.1,1265.6 L763.7,1267.2 L764.3,1268.8 L764.9,1270.4 L765.5,1272.0 L766.1,1273.6 L766.6,1275.2 L767.1,1276.8 L767.6,1278.4 L768.0,1280.0 L768.3,1281.5 L768.7,1283.0 L769.0,1284.5 L769.2,1286.0 L769.5,1287.5 L769.7,1289.0 L769.8,1290.5 L769.9,1292.0 L770.0,1293.5 L770.0,1295.0 L769.9,1296.4 L769.8,1297.8 L769.6,1299.2 L769.3,1300.6 L769.0,1302.0 L768.7,1303.4 L768.4,1304.8 L768.1,1306.2 L767.8,1307.6 L767.5,1309.0" fill="none" stroke="#111" stroke-width="1.15" />
<path d="M772.0,1264.0 L772.5,1265.6 L772.9,1267.2 L773.4,1268.8 L773.9,1270.4 L774.4,1272.0 L774.9,1273.6 L775.4,1275.2 L775.8,1276.8 L776.2,1278.4 L776.5,1280.0 L776.8,1281.5 L777.0,1283.0 L777.3,1284.5 L777.5,1286.0 L777.6,1287.5 L777.8,1289.1 L777.9,1290.5 L778.0,1292.0 L778.0,1293.5 L778.0,1295.0 L777.9,1296.4 L777.8,1297.8 L777.6,1299.2 L777.4,1300.6 L777.2,1302.0 L777.0,1303.4 L776.7,1304.8 L776.5,1306.2 L776.2,1307.6 L776.0,1309.0" fill="none" stroke="#111" stroke-width="1.15" />
<line x1="925.8" y1="1123.3" x2="912.6" y2="1185.1" stroke="#111" stroke-width="1.15" />
<line x1="938.3" y1="1140.0" x2="917.3" y2="1191.0" stroke="#111" stroke-width="1.15" />
<path d="M955.9,1155.8 L939.5,1232 Q937.5,1250 940.7,1281" fill="none" stroke="#111" stroke-width="1.15" />
<path d="M984,1191 L972.9,1267 Q972.5,1300 965.3,1308.9" fill="none" stroke="#111" stroke-width="1.15" />
<path d="M928.3,1088.3 L927.8,1089.5 L927.2,1090.6 L926.6,1091.8 L926.1,1093.0 L925.5,1094.1 L924.9,1095.3 L924.4,1096.5 L924.0,1097.6 L923.6,1098.8 L923.3,1100.0 L923.1,1101.1 L922.9,1102.3 L922.8,1103.4 L922.7,1104.5 L922.6,1105.6 L922.7,1106.8 L922.7,1108.0 L922.9,1109.2 L923.0,1110.4 L923.3,1111.7 L923.8,1113.6 L924.4,1115.7 L925.2,1117.9 L926.1,1120.2 L927.1,1122.4 L928.2,1124.7 L929.4,1127.0 L930.7,1129.2 L932.0,1131.3 L933.3,1133.3 L934.7,1135.2 L936.2,1137.1 L937.7,1138.9 L939.3,1140.8 L941.0,1142.5 L942.7,1144.2 L944.5,1145.8 L946.3,1147.3 L948.1,1148.7 L950.0,1150.0 L951.7,1151.1 L953.5,1152.0 L955.4,1152.8 L957.3,1153.5 L959.2,1154.2 L961.1,1154.9 L963.0,1155.5 L964.9,1156.1 L966.9,1156.8 L968.8,1157.5" fill="none" stroke="#111" stroke-width="1.95" />
<line x1="928.3" y1="1088.3" x2="1434.4" y2="838.4" stroke="#111" stroke-width="1.95" />
<path d="M1434.4,838.4 L1435.0,838.3 L1435.5,838.1 L1436.1,838.0 L1436.6,837.9 L1437.2,837.7 L1437.8,837.6 L1438.3,837.5 L1438.9,837.4 L1439.4,837.3 L1440.0,837.2 L1440.5,837.1 L1441.1,837.1 L1441.6,837.1 L1442.1,837.1 L1442.6,837.1 L1443.2,837.1 L1443.7,837.1 L1444.2,837.1 L1444.8,837.0 L1445.3,836.9 L1445.9,836.7 L1446.6,836.5 L1447.3,836.2 L1447.9,835.9 L1448.6,835.6 L1449.3,835.3 L1450.0,835.0 L1450.7,834.6 L1451.3,834.3 L1452.0,834.0" fill="none" stroke="#111" stroke-width="1.75" />
<line x1="1452.0" y1="834.0" x2="1629.7" y2="745.5" stroke="#111" stroke-width="1.95" />
<line x1="968.8" y1="1157.5" x2="1477.0" y2="936.5" stroke="#111" stroke-width="1.95" />
<path d="M1477,936.5 Q1481,928 1487,925.6" fill="none" stroke="#111" stroke-width="1.75" />
<line x1="1487.0" y1="925.6" x2="1537.5" y2="904.0" stroke="#111" stroke-width="1.75" />
<line x1="1489.0" y1="928.2" x2="1540.0" y2="906.5" stroke="#111" stroke-width="1.15" />
<line x1="1537.5" y1="904.0" x2="1675.0" y2="847.0" stroke="#111" stroke-width="1.95" />
<path d="M1629.7,745.5 L1630.0,745.5 L1630.3,745.5 L1630.6,745.6 L1630.9,745.6 L1631.1,745.6 L1631.4,745.6 L1631.7,745.6 L1632.0,745.7 L1632.2,745.7 L1632.5,745.8 L1632.7,745.9 L1632.9,746.0 L1633.1,746.1 L1633.3,746.2 L1633.5,746.3 L1633.7,746.5 L1633.8,746.6 L1634.0,746.7 L1634.2,746.9 L1634.4,747.0" fill="none" stroke="#111" stroke-width="1.75" />
<line x1="1634.4" y1="747.0" x2="1678.1" y2="841.6" stroke="#111" stroke-width="1.95" />
<line x1="1631.2" y1="747.8" x2="1675.0" y2="844.7" stroke="#111" stroke-width="1.15" />
<path d="M1678.1,841.6 L1678.1,841.9 L1678.1,842.3 L1678.2,842.7 L1678.2,843.0 L1678.2,843.4 L1678.2,843.7 L1678.2,844.1 L1678.2,844.4 L1678.1,844.7 L1678.0,845.0 L1677.8,845.3 L1677.6,845.5 L1677.3,845.7 L1677.0,845.9 L1676.7,846.1 L1676.3,846.3 L1676.0,846.4 L1675.6,846.6 L1675.3,846.8 L1675.0,847.0" fill="none" stroke="#111" stroke-width="1.75" />
<line x1="942.6" y1="1084.2" x2="975.3" y2="1154.5" stroke="#111" stroke-width="0.9500000000000001" />
<line x1="944.4" y1="1083.4" x2="977.1" y2="1153.7" stroke="#111" stroke-width="0.9500000000000001" />
<path d="M947,1124.5 L1737,756.6" fill="none" stroke="#111" stroke-width="1.15" stroke-dasharray="30 4.5 3.5 4.5" stroke-dashoffset="19.9" stroke-linecap="butt"/>
<path d="M1501.6,806.4 A53.7,53.7 0 1 1 1550,901" fill="none" stroke="#111" stroke-width="2.3"/>
<path d="M1500.0,808.8 L1500.9,808.0 L1501.8,807.3 L1502.7,806.6 L1503.6,805.8 L1504.5,805.1 L1505.4,804.4 L1506.3,803.6 L1507.3,803.0 L1508.3,802.3 L1509.4,801.7 L1510.8,801.0 L1512.2,800.3 L1513.8,799.6 L1515.4,799.0 L1517.0,798.3 L1518.7,797.8 L1520.3,797.3 L1522.0,796.8 L1523.5,796.5 L1525.0,796.2 L1526.2,796.1 L1527.3,796.1 L1528.4,796.1 L1529.5,796.2 L1530.6,796.3 L1531.7,796.5 L1532.7,796.6 L1533.8,796.8 L1534.9,796.9 L1536.0,797.0" fill="none" stroke="#111" stroke-width="1.15" />
<path d="M1550.0,901.0 L1548.7,901.3 L1547.4,901.6 L1546.1,901.9 L1544.8,902.2 L1543.5,902.5 L1542.3,902.8 L1541.0,903.1 L1539.8,903.4 L1538.6,903.7 L1537.5,904.0 L1536.7,904.2 L1535.9,904.4 L1535.1,904.6 L1534.4,904.8 L1533.6,905.0 L1532.9,905.2 L1532.2,905.4 L1531.5,905.6 L1530.7,905.8 L1530.0,906.0" fill="none" stroke="#111" stroke-width="1.3499999999999999" />
<path d="M1503,805.6 L1548.4,785.3 L1554.7,797.8" fill="none" stroke="#111" stroke-width="1.3499999999999999" />
<line x1="1507.8" y1="807.2" x2="1515.6" y2="821.2" stroke="#111" stroke-width="1.15" />
<line x1="1511.0" y1="805.7" x2="1518.8" y2="819.8" stroke="#111" stroke-width="1.15" />
<path d="M1585.9,865 L1593,878.3 L1550,897.8" fill="none" stroke="#111" stroke-width="1.3499999999999999" />
<line x1="1540.6" y1="880.6" x2="1548.4" y2="896.2" stroke="#111" stroke-width="1.15" />
<line x1="1543.8" y1="879.1" x2="1551.6" y2="894.8" stroke="#111" stroke-width="1.15" />
<circle cx="1537.6" cy="846.4" r="34.0" fill="none" stroke="#111" stroke-width="2.4"/>
<circle cx="1537.6" cy="846.4" r="30.4" fill="none" stroke="#111" stroke-width="2.2"/>
<path d="M1553.1,846.5 L1544.6,859.6 L1529.0,858.8 L1521.9,844.9 L1530.4,831.8 L1546.0,832.6Z" fill="#fff" stroke="none"/>
<path d="M1553.1,846.5 L1544.6,859.6 L1529.0,858.8 L1521.9,844.9 L1530.4,831.8 L1546.0,832.6Z" fill="none" stroke="#111" stroke-width="1.5499999999999998" />
<line x1="1537.5" y1="845.7" x2="1553.1" y2="846.5" stroke="#111" stroke-width="0.9500000000000001" />
<line x1="1537.5" y1="845.7" x2="1548.8" y2="853.1" stroke="#111" stroke-width="0.9500000000000001" />
<line x1="1537.5" y1="845.7" x2="1544.6" y2="859.6" stroke="#111" stroke-width="0.9500000000000001" />
<line x1="1537.5" y1="845.7" x2="1536.8" y2="859.2" stroke="#111" stroke-width="0.9500000000000001" />
<line x1="1537.5" y1="845.7" x2="1529.0" y2="858.8" stroke="#111" stroke-width="0.9500000000000001" />
<line x1="1537.5" y1="845.7" x2="1525.5" y2="851.8" stroke="#111" stroke-width="0.9500000000000001" />
<line x1="1537.5" y1="845.7" x2="1521.9" y2="844.9" stroke="#111" stroke-width="0.9500000000000001" />
<line x1="1537.5" y1="845.7" x2="1526.2" y2="838.3" stroke="#111" stroke-width="0.9500000000000001" />
<line x1="1537.5" y1="845.7" x2="1530.4" y2="831.8" stroke="#111" stroke-width="0.9500000000000001" />
<line x1="1537.5" y1="845.7" x2="1538.2" y2="832.2" stroke="#111" stroke-width="0.9500000000000001" />
<line x1="1537.5" y1="845.7" x2="1546.0" y2="832.6" stroke="#111" stroke-width="0.9500000000000001" />
<line x1="1537.5" y1="845.7" x2="1549.5" y2="839.6" stroke="#111" stroke-width="0.9500000000000001" />
<path d="M1548.4,902.5 L1546.6,903.2 L1544.8,903.9 L1543.1,904.6 L1541.4,905.3 L1539.7,906.0 L1537.9,906.7 L1536.1,907.5 L1534.2,908.3 L1532.1,909.1 L1530.0,910.0 L1526.5,911.5 L1522.6,913.2 L1518.5,915.0 L1514.2,916.9 L1509.8,918.9 L1505.3,921.0 L1500.8,923.0 L1496.3,925.1 L1491.8,927.1 L1487.5,929.0" fill="none" stroke="#111" stroke-width="1.15" />
<text transform="translate(901.7,1251.6) scale(-0.62,-1)" x="0" y="0" font-family="Liberation Sans" font-weight="bold" font-size="14" fill="#111" stroke="#111" stroke-width="0.7">rizoma</text>
<path d="M903.4,1248.8 L905,1254 L905.5,1257 L906.8,1262" fill="none" stroke="#111" stroke-width="2.15" />
<path d="M913.6,1248.4 L917,1248.4 L917.2,1261.7 L910.8,1262 L910.8,1259.4 L913.8,1258.2 Z" fill="none" stroke="#111" stroke-width="1.75" />
<defs><filter id="thin" x="-10%" y="-10%" width="120%" height="120%"><feMorphology operator="erode" radius="0 1.3"/></filter></defs>
<path transform="translate(577.80,200.10) rotate(0)" d="M5.00,0 L7.60,0 L7.60,-19.30 L5.40,-19.30 C5.00,-17.10 2.60,-15.70 0,-15.30 L0,-13.20 C2.80,-13.30 4.40,-14.10 5.00,-14.70 Z" fill="#111"/>
<text x="594.1" y="200.1" font-family="Liberation Sans" font-size="27.2" fill="#111">4</text>
<text x="613" y="200.1" font-family="Liberation Sans" font-size="27.2" fill="#111">3</text>
<text x="886" y="1384.6" font-family="Liberation Sans" font-size="27.2" fill="#111">2</text>
<text x="905.3" y="1384.6" font-family="Liberation Sans" font-size="27.2" fill="#111">5</text>
<text x="924.6" y="1384.6" font-family="Liberation Sans" font-size="27.2" fill="#111">8</text>
<text x="943.4" y="1384.6" font-family="Liberation Sans" font-size="27.2" fill="#111">.</text>
<text x="954.9" y="1384.6" font-family="Liberation Sans" font-size="27.2" fill="#111">5</text>
<g transform="translate(119.6,0) rotate(-90)"><text x="-553.7" y="0" font-family="Liberation Sans" font-size="27.2" fill="#111">8</text><text x="-534.7" y="0" font-family="Liberation Sans" font-size="27.2" fill="#111">8</text></g>
<g transform="translate(125.7,0) rotate(-90)"><text x="-1208.1" y="0" font-family="Liberation Sans" font-size="27.2" fill="#111">4</text><text x="-1188.6" y="0" font-family="Liberation Sans" font-size="27.2" fill="#111">7</text><text x="-1171.6" y="0" font-family="Liberation Sans" font-size="27.2" fill="#111">.</text><text x="-1158.6" y="0" font-family="Liberation Sans" font-size="27.2" fill="#111">5</text></g>
<g transform="translate(1796,0) rotate(-90)"><text x="-1083.8" y="0" font-family="Liberation Sans" font-size="27.2" fill="#111">9</text><path transform="translate(-1062.20,0.00) rotate(0)" d="M5.00,0 L7.60,0 L7.60,-19.30 L5.40,-19.30 C5.00,-17.10 2.60,-15.70 0,-15.30 L0,-13.20 C2.80,-13.30 4.40,-14.10 5.00,-14.70 Z" fill="#111"/><text x="-1046.2" y="0" font-family="Liberation Sans" font-size="27.2" fill="#111">.</text><text x="-1034.2" y="0" font-family="Liberation Sans" font-size="27.2" fill="#111">5</text></g>
<g transform="translate(1732.92,743.92) rotate(65)"><path transform="translate(-14.90,0.00) rotate(0)" d="M5.00,0 L7.60,0 L7.60,-19.30 L5.40,-19.30 C5.00,-17.10 2.60,-15.70 0,-15.30 L0,-13.20 C2.80,-13.30 4.40,-14.10 5.00,-14.70 Z" fill="#111"/><text x="0" y="0" font-family="Liberation Sans" font-size="27.2" fill="#111">9</text><text x="19.35" y="0" font-family="Liberation Sans" font-size="27.2" fill="#111">.</text><text x="28.4" y="0" font-family="Liberation Sans" font-size="27.2" fill="#111">7</text></g>
<ellipse cx="1728.9" cy="711.5" rx="7.3" ry="7.2" fill="none" stroke="#111" stroke-width="1.1"/>
<line x1="1719.5" y1="713.4" x2="1738.7" y2="709" stroke="#111" stroke-width="1.1"/>
<text transform="translate(37.20,43.90) scale(0.6891,1.0274) translate(-7,73)" x="0" y="0" font-family="Liberation Sans" font-weight="bold" font-size="105.5" fill="#000" filter="url(#thin)">B</text>
<text transform="translate(88.10,43.20) scale(0.7016,1.0227) translate(-3,74)" x="0" y="0" font-family="Liberation Sans" font-weight="bold" font-size="105.5" fill="#000" filter="url(#thin)">S</text>
<text transform="translate(138.90,44.80) scale(0.8115,1.0013) translate(-3,74)" x="0" y="0" font-family="Liberation Sans" font-weight="bold" font-size="105.5" fill="#000" filter="url(#thin)">3</text>
<text transform="translate(187.00,44.80) scale(0.8460,1.0013) translate(-4,74)" x="0" y="0" font-family="Liberation Sans" font-weight="bold" font-size="105.5" fill="#000" filter="url(#thin)">0</text>
<text transform="translate(235.10,45.80) scale(0.7981,0.9932) translate(-3,73)" x="0" y="0" font-family="Liberation Sans" font-weight="bold" font-size="105.5" fill="#000" filter="url(#thin)">5</text>
</svg>
</body></html>
